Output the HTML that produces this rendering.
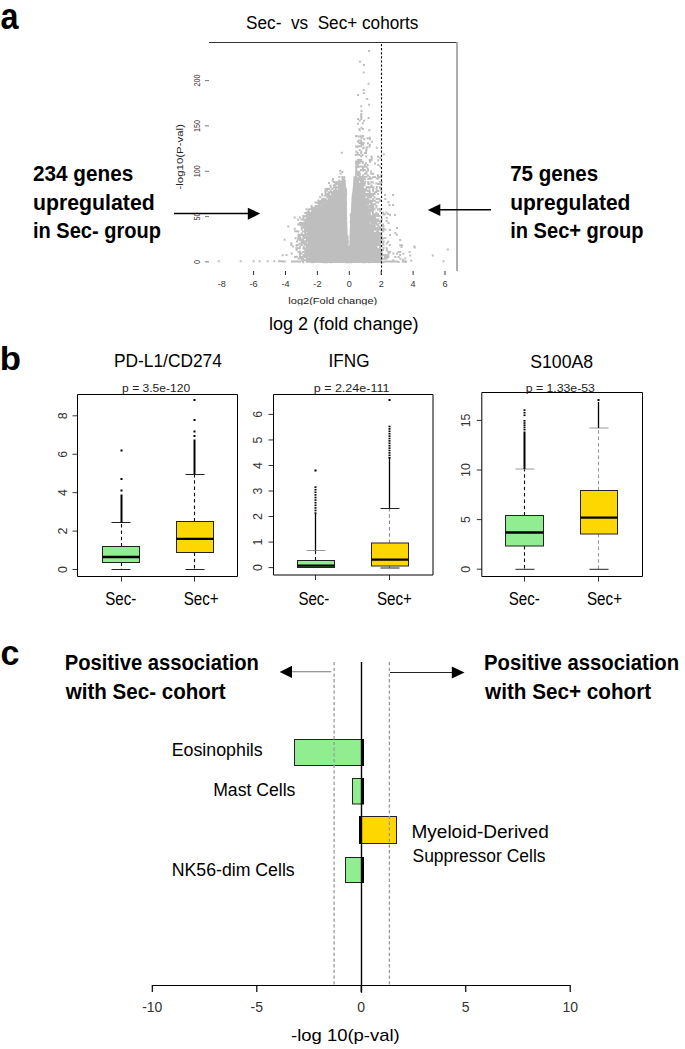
<!DOCTYPE html>
<html><head><meta charset="utf-8"><style>
html,body{margin:0;padding:0;background:#fff;overflow:hidden;}
svg{display:block;font-family:"Liberation Sans",sans-serif;}
</style></head><body>
<svg width="685" height="1049" viewBox="0 0 685 1049">
<rect width="685" height="1049" fill="#fff"/>
<text x="0.50" y="28.70" font-size="36" font-weight="bold" fill="#000" textLength="18.00" lengthAdjust="spacingAndGlyphs">a</text>
<text x="-0.30" y="370.20" font-size="34" font-weight="bold" fill="#000" textLength="21.25" lengthAdjust="spacingAndGlyphs">b</text>
<text x="0.60" y="665.00" font-size="35" font-weight="bold" fill="#000" textLength="19.00" lengthAdjust="spacingAndGlyphs">c</text>
<text x="246.10" y="28.60" font-size="18" font-weight="normal" fill="#000" textLength="172.25" lengthAdjust="spacingAndGlyphs">Sec-&#160;&#160;vs&#160;&#160;Sec+ cohorts</text>
<text x="33.00" y="181.20" font-size="21.5" font-weight="bold" fill="#000" textLength="100.25" lengthAdjust="spacingAndGlyphs">234 genes</text>
<text x="33.00" y="209.50" font-size="21.5" font-weight="bold" fill="#000" textLength="121.75" lengthAdjust="spacingAndGlyphs">upregulated</text>
<text x="33.00" y="237.80" font-size="21.5" font-weight="bold" fill="#000" textLength="128.00" lengthAdjust="spacingAndGlyphs">in Sec- group</text>
<text x="510.20" y="181.20" font-size="21.5" font-weight="bold" fill="#000" textLength="88.00" lengthAdjust="spacingAndGlyphs">75 genes</text>
<text x="510.20" y="209.50" font-size="21.5" font-weight="bold" fill="#000" textLength="120.25" lengthAdjust="spacingAndGlyphs">upregulated</text>
<text x="510.20" y="237.80" font-size="21.5" font-weight="bold" fill="#000" textLength="133.25" lengthAdjust="spacingAndGlyphs">in Sec+ group</text>
<text x="268.90" y="330.30" font-size="18" font-weight="normal" fill="#000" textLength="149.75" lengthAdjust="spacingAndGlyphs">log 2 (fold change)</text>
<text x="288.30" y="304.30" font-size="9.5" font-weight="normal" fill="#222" textLength="89.00" lengthAdjust="spacingAndGlyphs">log2(Fold change)</text>
<rect x="285.00" y="305.20" width="95.00" height="5.00" fill="#fff"/>
<polygon points="312.0,262.8 309.0,250.0 307.5,240.0 307.0,230.0 308.0,222.0 311.0,216.0 316.0,211.0 321.0,207.0 326.0,203.0 331.0,199.0 336.0,192.0 341.0,185.0 344.0,180.0 345.6,180.0 346.0,190.0 346.4,200.0 346.6,210.0 347.0,220.0 347.5,230.0 347.8,240.0 348.4,248.0 349.0,252.0 349.2,262.8" fill="#bebebe"/>
<polygon points="349.0,262.8 348.8,252.0 349.4,245.0 350.2,220.0 351.0,210.0 352.0,195.0 353.0,185.0 354.3,178.0 356.0,176.0 358.0,178.0 360.0,185.0 362.0,193.0 364.0,200.0 366.0,207.0 368.0,216.0 370.0,224.0 372.0,232.0 375.0,240.0 378.0,250.0 380.0,257.0 381.0,262.8" fill="#bebebe"/>
<path d="M298.9 260.8h2v2h-2zM302.1 261.3h2v2h-2zM305.9 260.8h2v2h-2zM307.5 260.7h2v2h-2zM309.0 260.7h2v2h-2zM310.9 261.2h2v2h-2zM312.7 261.0h2v2h-2zM314.3 260.9h2v2h-2zM319.5 260.9h2v2h-2zM321.0 260.7h2v2h-2zM322.7 261.2h2v2h-2zM324.8 261.2h2v2h-2zM326.0 261.2h2v2h-2zM328.2 260.9h2v2h-2zM329.7 261.2h2v2h-2zM331.1 260.9h2v2h-2zM333.2 260.8h2v2h-2zM334.5 260.7h2v2h-2zM336.2 261.0h2v2h-2zM337.9 261.1h2v2h-2zM339.9 260.8h2v2h-2zM341.3 260.9h2v2h-2zM344.8 261.2h2v2h-2zM346.5 261.2h2v2h-2zM348.1 261.3h2v2h-2zM349.9 261.2h2v2h-2zM351.6 260.7h2v2h-2zM353.4 260.8h2v2h-2zM355.0 261.0h2v2h-2zM356.8 261.0h2v2h-2zM358.3 260.8h2v2h-2zM360.4 260.8h2v2h-2zM362.0 261.3h2v2h-2zM363.9 261.2h2v2h-2zM365.3 260.8h2v2h-2zM367.3 260.8h2v2h-2zM368.6 261.2h2v2h-2zM370.3 260.8h2v2h-2zM371.8 260.8h2v2h-2zM374.0 261.1h2v2h-2zM375.8 260.8h2v2h-2zM377.1 261.0h2v2h-2zM378.7 260.9h2v2h-2zM382.2 261.2h2v2h-2zM390.5 260.7h2v2h-2zM397.7 261.0h2v2h-2zM404.4 261.1h2v2h-2zM300.7 259.4h2v2h-2zM302.5 259.6h2v2h-2zM304.2 259.2h2v2h-2zM305.8 259.3h2v2h-2zM307.3 259.5h2v2h-2zM309.3 259.3h2v2h-2zM311.0 259.3h2v2h-2zM312.9 259.2h2v2h-2zM314.2 259.4h2v2h-2zM315.8 259.5h2v2h-2zM317.7 259.5h2v2h-2zM319.5 259.1h2v2h-2zM321.3 259.5h2v2h-2zM322.7 259.3h2v2h-2zM324.3 259.3h2v2h-2zM326.4 259.4h2v2h-2zM327.8 259.1h2v2h-2zM329.5 259.1h2v2h-2zM331.4 259.3h2v2h-2zM333.2 259.6h2v2h-2zM334.4 259.0h2v2h-2zM336.1 259.4h2v2h-2zM338.0 259.5h2v2h-2zM339.6 259.3h2v2h-2zM341.7 259.1h2v2h-2zM342.9 259.4h2v2h-2zM345.0 259.4h2v2h-2zM346.9 259.4h2v2h-2zM348.3 259.1h2v2h-2zM350.0 259.4h2v2h-2zM351.6 259.2h2v2h-2zM353.4 259.4h2v2h-2zM355.0 259.5h2v2h-2zM356.6 259.6h2v2h-2zM358.3 259.3h2v2h-2zM360.4 259.2h2v2h-2zM362.1 259.5h2v2h-2zM363.6 259.4h2v2h-2zM365.4 259.5h2v2h-2zM367.1 259.1h2v2h-2zM369.0 259.6h2v2h-2zM370.6 259.2h2v2h-2zM372.3 259.2h2v2h-2zM373.8 259.3h2v2h-2zM375.5 259.0h2v2h-2zM376.9 259.5h2v2h-2zM378.8 259.5h2v2h-2zM380.4 259.3h2v2h-2zM392.3 259.3h2v2h-2zM297.6 257.6h2v2h-2zM299.2 257.6h2v2h-2zM300.8 257.3h2v2h-2zM302.3 257.9h2v2h-2zM305.8 257.4h2v2h-2zM307.7 257.8h2v2h-2zM309.1 257.4h2v2h-2zM311.2 257.4h2v2h-2zM312.3 257.4h2v2h-2zM314.4 257.5h2v2h-2zM316.1 257.4h2v2h-2zM317.5 257.6h2v2h-2zM319.2 257.6h2v2h-2zM321.0 257.5h2v2h-2zM322.6 257.4h2v2h-2zM324.6 257.6h2v2h-2zM326.3 257.8h2v2h-2zM328.0 257.8h2v2h-2zM329.5 257.5h2v2h-2zM331.1 257.9h2v2h-2zM332.8 257.4h2v2h-2zM334.6 257.4h2v2h-2zM336.4 257.8h2v2h-2zM338.0 257.7h2v2h-2zM339.6 257.7h2v2h-2zM341.8 257.4h2v2h-2zM343.4 257.6h2v2h-2zM344.7 257.3h2v2h-2zM346.3 257.6h2v2h-2zM348.3 257.4h2v2h-2zM349.8 257.8h2v2h-2zM353.2 257.3h2v2h-2zM355.1 257.8h2v2h-2zM356.8 257.6h2v2h-2zM358.6 257.3h2v2h-2zM360.4 257.4h2v2h-2zM362.0 257.5h2v2h-2zM363.4 257.6h2v2h-2zM365.5 257.8h2v2h-2zM367.2 257.7h2v2h-2zM368.8 257.6h2v2h-2zM372.0 257.8h2v2h-2zM374.0 257.8h2v2h-2zM375.7 257.8h2v2h-2zM377.4 257.8h2v2h-2zM379.0 257.3h2v2h-2zM380.6 257.3h2v2h-2zM382.4 257.7h2v2h-2zM384.3 257.7h2v2h-2zM385.8 257.6h2v2h-2zM399.4 257.7h2v2h-2zM404.2 257.5h2v2h-2zM294.0 256.1h2v2h-2zM295.9 255.7h2v2h-2zM299.0 256.0h2v2h-2zM301.0 255.9h2v2h-2zM302.5 255.8h2v2h-2zM304.2 255.9h2v2h-2zM305.9 255.8h2v2h-2zM307.3 255.6h2v2h-2zM309.4 255.8h2v2h-2zM311.0 255.6h2v2h-2zM314.0 256.1h2v2h-2zM316.0 256.2h2v2h-2zM317.7 256.2h2v2h-2zM319.4 256.2h2v2h-2zM321.2 255.7h2v2h-2zM322.8 255.7h2v2h-2zM324.5 255.7h2v2h-2zM326.3 255.9h2v2h-2zM327.9 255.9h2v2h-2zM329.6 256.2h2v2h-2zM331.4 255.7h2v2h-2zM333.2 256.1h2v2h-2zM334.6 255.8h2v2h-2zM336.4 256.0h2v2h-2zM338.3 255.7h2v2h-2zM340.1 256.1h2v2h-2zM341.2 255.6h2v2h-2zM343.2 256.0h2v2h-2zM344.9 255.6h2v2h-2zM346.7 255.9h2v2h-2zM348.2 255.9h2v2h-2zM349.9 256.0h2v2h-2zM351.4 255.7h2v2h-2zM353.5 256.1h2v2h-2zM355.1 255.8h2v2h-2zM356.7 256.0h2v2h-2zM360.2 256.0h2v2h-2zM361.9 255.8h2v2h-2zM363.8 255.6h2v2h-2zM365.3 255.9h2v2h-2zM366.9 256.1h2v2h-2zM368.5 256.0h2v2h-2zM370.3 256.0h2v2h-2zM372.0 255.7h2v2h-2zM373.9 255.8h2v2h-2zM375.6 255.9h2v2h-2zM377.5 256.1h2v2h-2zM379.1 255.8h2v2h-2zM380.5 256.2h2v2h-2zM383.9 255.8h2v2h-2zM385.6 255.8h2v2h-2zM387.4 256.1h2v2h-2zM394.4 256.1h2v2h-2zM397.6 255.9h2v2h-2zM281.7 254.3h2v2h-2zM285.5 254.0h2v2h-2zM298.9 254.5h2v2h-2zM302.4 254.3h2v2h-2zM304.3 254.1h2v2h-2zM305.9 254.4h2v2h-2zM307.7 254.4h2v2h-2zM309.3 254.2h2v2h-2zM311.1 254.2h2v2h-2zM312.4 254.3h2v2h-2zM315.8 254.0h2v2h-2zM317.6 254.5h2v2h-2zM319.3 254.0h2v2h-2zM321.3 254.0h2v2h-2zM322.8 254.3h2v2h-2zM324.2 254.0h2v2h-2zM326.0 254.0h2v2h-2zM328.0 254.0h2v2h-2zM329.5 254.0h2v2h-2zM331.2 254.2h2v2h-2zM333.0 254.1h2v2h-2zM334.9 254.1h2v2h-2zM336.7 254.2h2v2h-2zM337.8 254.5h2v2h-2zM339.7 254.2h2v2h-2zM341.4 254.5h2v2h-2zM343.0 253.9h2v2h-2zM344.8 254.4h2v2h-2zM346.7 254.0h2v2h-2zM348.2 254.1h2v2h-2zM350.0 254.3h2v2h-2zM353.4 254.0h2v2h-2zM354.8 254.4h2v2h-2zM357.0 253.9h2v2h-2zM358.6 254.0h2v2h-2zM360.2 254.5h2v2h-2zM362.1 254.1h2v2h-2zM363.6 254.5h2v2h-2zM365.5 254.0h2v2h-2zM367.0 254.0h2v2h-2zM368.6 254.1h2v2h-2zM370.3 254.2h2v2h-2zM372.0 254.3h2v2h-2zM373.7 254.2h2v2h-2zM375.7 254.3h2v2h-2zM377.1 254.3h2v2h-2zM378.9 254.2h2v2h-2zM380.9 254.4h2v2h-2zM382.4 254.1h2v2h-2zM384.0 254.1h2v2h-2zM385.6 254.3h2v2h-2zM387.2 254.3h2v2h-2zM399.1 254.0h2v2h-2zM290.8 252.5h2v2h-2zM298.9 252.4h2v2h-2zM300.6 252.6h2v2h-2zM304.2 252.6h2v2h-2zM305.7 252.4h2v2h-2zM307.3 252.4h2v2h-2zM309.4 252.7h2v2h-2zM310.7 252.7h2v2h-2zM312.6 252.4h2v2h-2zM314.1 252.6h2v2h-2zM317.8 252.7h2v2h-2zM319.7 252.6h2v2h-2zM320.8 252.3h2v2h-2zM322.9 252.4h2v2h-2zM324.4 252.5h2v2h-2zM326.5 252.3h2v2h-2zM327.9 252.5h2v2h-2zM329.5 252.7h2v2h-2zM333.1 252.3h2v2h-2zM334.6 252.7h2v2h-2zM336.4 252.7h2v2h-2zM338.1 252.2h2v2h-2zM339.6 252.8h2v2h-2zM341.6 252.4h2v2h-2zM343.3 252.4h2v2h-2zM345.1 252.2h2v2h-2zM346.6 252.3h2v2h-2zM348.3 252.3h2v2h-2zM349.9 252.5h2v2h-2zM351.8 252.2h2v2h-2zM353.2 252.8h2v2h-2zM355.1 252.4h2v2h-2zM356.9 252.7h2v2h-2zM358.5 252.8h2v2h-2zM360.4 252.4h2v2h-2zM361.9 252.7h2v2h-2zM363.6 252.5h2v2h-2zM365.2 252.2h2v2h-2zM367.2 252.6h2v2h-2zM368.9 252.4h2v2h-2zM370.1 252.3h2v2h-2zM372.1 252.4h2v2h-2zM373.9 252.5h2v2h-2zM375.4 252.4h2v2h-2zM376.9 252.7h2v2h-2zM379.0 252.7h2v2h-2zM380.8 252.3h2v2h-2zM387.6 252.3h2v2h-2zM392.3 252.4h2v2h-2zM396.1 252.7h2v2h-2zM402.4 252.7h2v2h-2zM297.5 251.1h2v2h-2zM299.1 250.6h2v2h-2zM302.2 250.9h2v2h-2zM304.3 251.0h2v2h-2zM305.6 250.9h2v2h-2zM307.5 250.5h2v2h-2zM309.1 250.9h2v2h-2zM310.7 250.6h2v2h-2zM312.8 250.7h2v2h-2zM314.5 250.9h2v2h-2zM315.9 251.1h2v2h-2zM317.6 250.9h2v2h-2zM319.7 250.8h2v2h-2zM321.1 250.5h2v2h-2zM322.7 250.7h2v2h-2zM324.3 250.7h2v2h-2zM326.0 250.7h2v2h-2zM327.7 251.0h2v2h-2zM331.3 251.0h2v2h-2zM333.3 250.8h2v2h-2zM334.7 250.9h2v2h-2zM336.5 251.0h2v2h-2zM338.1 251.0h2v2h-2zM339.8 251.1h2v2h-2zM341.7 250.6h2v2h-2zM343.0 250.8h2v2h-2zM345.1 251.0h2v2h-2zM346.6 250.6h2v2h-2zM348.3 250.5h2v2h-2zM350.1 250.8h2v2h-2zM351.5 250.6h2v2h-2zM353.4 250.8h2v2h-2zM355.0 251.0h2v2h-2zM357.0 250.8h2v2h-2zM358.7 250.6h2v2h-2zM360.1 250.5h2v2h-2zM362.0 250.8h2v2h-2zM363.7 250.6h2v2h-2zM365.1 250.7h2v2h-2zM367.1 251.0h2v2h-2zM368.4 250.7h2v2h-2zM370.2 251.1h2v2h-2zM372.1 251.0h2v2h-2zM375.5 250.9h2v2h-2zM377.0 251.0h2v2h-2zM378.8 250.7h2v2h-2zM380.3 250.5h2v2h-2zM387.3 250.8h2v2h-2zM389.1 251.1h2v2h-2zM397.5 250.9h2v2h-2zM399.2 250.9h2v2h-2zM295.6 249.0h2v2h-2zM304.0 248.8h2v2h-2zM305.7 249.0h2v2h-2zM307.3 249.0h2v2h-2zM309.5 249.2h2v2h-2zM310.8 248.9h2v2h-2zM312.5 249.3h2v2h-2zM314.5 248.8h2v2h-2zM315.9 248.8h2v2h-2zM317.6 249.3h2v2h-2zM319.1 249.0h2v2h-2zM320.8 248.9h2v2h-2zM322.5 249.0h2v2h-2zM324.5 248.9h2v2h-2zM326.1 249.2h2v2h-2zM327.7 248.9h2v2h-2zM329.7 249.0h2v2h-2zM331.5 248.9h2v2h-2zM332.9 248.9h2v2h-2zM334.4 249.2h2v2h-2zM336.6 249.4h2v2h-2zM338.2 249.4h2v2h-2zM339.9 249.2h2v2h-2zM341.7 248.9h2v2h-2zM343.0 249.1h2v2h-2zM344.6 249.0h2v2h-2zM346.6 249.0h2v2h-2zM348.2 249.1h2v2h-2zM350.1 248.9h2v2h-2zM351.6 249.1h2v2h-2zM353.4 249.2h2v2h-2zM355.2 248.8h2v2h-2zM356.7 248.8h2v2h-2zM358.2 249.1h2v2h-2zM360.2 249.0h2v2h-2zM361.6 249.0h2v2h-2zM363.6 249.0h2v2h-2zM365.1 249.1h2v2h-2zM367.3 249.0h2v2h-2zM369.0 249.3h2v2h-2zM370.5 249.0h2v2h-2zM372.0 249.3h2v2h-2zM373.7 249.3h2v2h-2zM375.3 249.1h2v2h-2zM377.1 249.4h2v2h-2zM378.7 248.9h2v2h-2zM382.0 249.1h2v2h-2zM385.7 249.2h2v2h-2zM295.4 247.3h2v2h-2zM297.3 247.2h2v2h-2zM298.7 247.2h2v2h-2zM302.4 247.6h2v2h-2zM303.9 247.6h2v2h-2zM305.5 247.3h2v2h-2zM307.7 247.3h2v2h-2zM309.1 247.5h2v2h-2zM310.8 247.6h2v2h-2zM312.8 247.4h2v2h-2zM314.4 247.5h2v2h-2zM316.2 247.2h2v2h-2zM317.8 247.2h2v2h-2zM319.1 247.5h2v2h-2zM321.4 247.2h2v2h-2zM322.8 247.5h2v2h-2zM324.8 247.7h2v2h-2zM326.3 247.2h2v2h-2zM327.8 247.5h2v2h-2zM331.2 247.1h2v2h-2zM333.0 247.3h2v2h-2zM334.9 247.6h2v2h-2zM336.3 247.5h2v2h-2zM338.4 247.3h2v2h-2zM339.8 247.6h2v2h-2zM341.3 247.2h2v2h-2zM343.1 247.4h2v2h-2zM344.8 247.1h2v2h-2zM346.4 247.5h2v2h-2zM348.1 247.4h2v2h-2zM349.9 247.1h2v2h-2zM351.9 247.3h2v2h-2zM353.2 247.4h2v2h-2zM357.0 247.4h2v2h-2zM358.7 247.3h2v2h-2zM360.2 247.5h2v2h-2zM361.8 247.7h2v2h-2zM363.9 247.4h2v2h-2zM365.4 247.2h2v2h-2zM366.8 247.2h2v2h-2zM368.6 247.6h2v2h-2zM370.4 247.1h2v2h-2zM372.4 247.1h2v2h-2zM374.0 247.6h2v2h-2zM375.4 247.6h2v2h-2zM377.4 247.7h2v2h-2zM379.2 247.3h2v2h-2zM382.5 247.1h2v2h-2zM385.6 247.3h2v2h-2zM292.2 245.6h2v2h-2zM299.2 245.6h2v2h-2zM302.7 245.7h2v2h-2zM305.7 245.8h2v2h-2zM307.4 245.8h2v2h-2zM309.1 245.5h2v2h-2zM311.2 245.5h2v2h-2zM312.5 245.8h2v2h-2zM314.4 245.9h2v2h-2zM316.1 245.7h2v2h-2zM317.5 245.9h2v2h-2zM319.4 245.8h2v2h-2zM321.0 245.5h2v2h-2zM322.8 245.7h2v2h-2zM324.6 245.7h2v2h-2zM326.3 246.0h2v2h-2zM327.9 246.0h2v2h-2zM329.5 245.8h2v2h-2zM333.2 245.5h2v2h-2zM336.2 245.9h2v2h-2zM338.4 245.9h2v2h-2zM339.8 246.0h2v2h-2zM341.7 245.8h2v2h-2zM343.4 245.7h2v2h-2zM345.1 245.5h2v2h-2zM346.7 245.4h2v2h-2zM348.5 245.7h2v2h-2zM350.2 245.9h2v2h-2zM351.7 245.9h2v2h-2zM353.2 245.6h2v2h-2zM354.8 245.6h2v2h-2zM357.0 245.5h2v2h-2zM358.4 245.9h2v2h-2zM360.4 245.4h2v2h-2zM363.7 245.9h2v2h-2zM365.1 245.8h2v2h-2zM366.7 245.6h2v2h-2zM368.8 245.6h2v2h-2zM370.5 245.5h2v2h-2zM372.2 245.7h2v2h-2zM373.6 246.0h2v2h-2zM375.4 245.5h2v2h-2zM379.0 245.6h2v2h-2zM380.5 245.5h2v2h-2zM290.5 243.9h2v2h-2zM295.7 244.1h2v2h-2zM297.2 243.8h2v2h-2zM300.7 243.9h2v2h-2zM304.2 244.0h2v2h-2zM306.0 243.8h2v2h-2zM307.4 244.1h2v2h-2zM309.1 244.2h2v2h-2zM310.6 244.1h2v2h-2zM312.5 244.0h2v2h-2zM314.4 244.1h2v2h-2zM321.3 244.1h2v2h-2zM323.1 243.7h2v2h-2zM324.4 244.1h2v2h-2zM326.5 243.8h2v2h-2zM327.7 243.9h2v2h-2zM329.4 243.8h2v2h-2zM331.4 244.1h2v2h-2zM333.2 244.1h2v2h-2zM334.5 244.0h2v2h-2zM336.6 244.3h2v2h-2zM337.8 243.9h2v2h-2zM339.8 243.8h2v2h-2zM341.4 244.0h2v2h-2zM343.2 243.8h2v2h-2zM344.9 243.9h2v2h-2zM346.4 243.9h2v2h-2zM349.8 244.0h2v2h-2zM351.7 244.2h2v2h-2zM353.6 243.8h2v2h-2zM356.7 244.1h2v2h-2zM358.8 243.9h2v2h-2zM360.0 244.2h2v2h-2zM362.0 243.8h2v2h-2zM363.3 243.8h2v2h-2zM365.6 244.1h2v2h-2zM366.7 243.9h2v2h-2zM368.6 243.8h2v2h-2zM370.3 244.0h2v2h-2zM372.3 244.3h2v2h-2zM373.8 244.2h2v2h-2zM375.4 244.1h2v2h-2zM377.1 244.0h2v2h-2zM378.8 244.0h2v2h-2zM382.5 243.7h2v2h-2zM388.9 243.9h2v2h-2zM399.2 244.3h2v2h-2zM401.1 244.3h2v2h-2zM290.3 242.2h2v2h-2zM298.9 242.4h2v2h-2zM301.0 242.5h2v2h-2zM302.3 242.5h2v2h-2zM304.2 242.0h2v2h-2zM305.5 242.4h2v2h-2zM307.8 242.4h2v2h-2zM309.5 242.5h2v2h-2zM310.6 242.4h2v2h-2zM312.7 242.6h2v2h-2zM314.0 242.5h2v2h-2zM316.2 242.2h2v2h-2zM317.7 242.1h2v2h-2zM319.5 242.0h2v2h-2zM321.3 242.4h2v2h-2zM322.6 242.1h2v2h-2zM324.8 242.3h2v2h-2zM326.0 242.2h2v2h-2zM328.1 242.1h2v2h-2zM329.6 242.0h2v2h-2zM331.2 242.4h2v2h-2zM333.0 242.4h2v2h-2zM334.9 242.1h2v2h-2zM336.2 242.4h2v2h-2zM338.0 242.1h2v2h-2zM339.9 242.3h2v2h-2zM341.5 242.5h2v2h-2zM343.3 242.3h2v2h-2zM346.7 242.1h2v2h-2zM350.1 242.3h2v2h-2zM351.4 242.5h2v2h-2zM353.5 242.3h2v2h-2zM355.1 242.6h2v2h-2zM356.8 242.3h2v2h-2zM358.7 242.1h2v2h-2zM360.4 242.0h2v2h-2zM361.9 242.3h2v2h-2zM363.4 242.6h2v2h-2zM365.5 242.1h2v2h-2zM366.8 242.1h2v2h-2zM368.8 242.1h2v2h-2zM370.4 242.5h2v2h-2zM372.2 242.2h2v2h-2zM373.9 242.2h2v2h-2zM375.6 242.2h2v2h-2zM376.9 242.3h2v2h-2zM378.8 242.2h2v2h-2zM380.6 242.2h2v2h-2zM382.2 242.3h2v2h-2zM385.9 242.5h2v2h-2zM295.9 240.4h2v2h-2zM300.9 240.4h2v2h-2zM302.2 240.9h2v2h-2zM304.3 240.3h2v2h-2zM305.5 240.3h2v2h-2zM307.8 240.7h2v2h-2zM309.4 240.6h2v2h-2zM310.9 240.4h2v2h-2zM312.5 240.6h2v2h-2zM314.4 240.6h2v2h-2zM315.7 240.6h2v2h-2zM318.0 240.6h2v2h-2zM319.3 240.5h2v2h-2zM321.4 240.9h2v2h-2zM323.1 240.8h2v2h-2zM324.2 240.6h2v2h-2zM326.3 240.7h2v2h-2zM328.2 240.4h2v2h-2zM329.9 240.3h2v2h-2zM331.5 240.9h2v2h-2zM332.7 240.8h2v2h-2zM334.7 240.6h2v2h-2zM336.6 240.3h2v2h-2zM338.3 240.9h2v2h-2zM339.7 240.5h2v2h-2zM341.2 240.8h2v2h-2zM343.3 240.6h2v2h-2zM345.0 240.6h2v2h-2zM346.8 240.4h2v2h-2zM349.9 240.6h2v2h-2zM351.6 240.4h2v2h-2zM353.3 240.6h2v2h-2zM355.3 240.4h2v2h-2zM356.7 240.5h2v2h-2zM358.6 240.8h2v2h-2zM359.9 240.8h2v2h-2zM361.7 240.5h2v2h-2zM365.2 240.8h2v2h-2zM368.5 240.8h2v2h-2zM370.3 240.8h2v2h-2zM372.0 240.7h2v2h-2zM373.8 240.8h2v2h-2zM375.5 240.5h2v2h-2zM377.4 240.4h2v2h-2zM379.1 240.9h2v2h-2zM382.6 240.4h2v2h-2zM387.2 240.7h2v2h-2zM283.6 238.7h2v2h-2zM297.1 238.6h2v2h-2zM299.2 239.2h2v2h-2zM300.5 238.8h2v2h-2zM302.3 239.1h2v2h-2zM305.9 239.1h2v2h-2zM307.3 239.2h2v2h-2zM311.1 238.8h2v2h-2zM312.4 238.7h2v2h-2zM314.1 238.6h2v2h-2zM316.2 238.9h2v2h-2zM317.7 238.7h2v2h-2zM319.3 238.6h2v2h-2zM321.2 238.8h2v2h-2zM322.9 238.8h2v2h-2zM324.7 238.9h2v2h-2zM326.2 238.9h2v2h-2zM328.1 238.7h2v2h-2zM329.8 239.1h2v2h-2zM331.3 239.2h2v2h-2zM332.8 239.0h2v2h-2zM334.8 238.7h2v2h-2zM336.3 238.7h2v2h-2zM338.0 238.9h2v2h-2zM340.1 238.9h2v2h-2zM341.2 238.9h2v2h-2zM343.2 239.0h2v2h-2zM344.7 238.9h2v2h-2zM346.7 239.2h2v2h-2zM350.0 238.7h2v2h-2zM351.5 239.1h2v2h-2zM353.3 239.1h2v2h-2zM355.1 238.9h2v2h-2zM356.8 238.9h2v2h-2zM358.7 238.9h2v2h-2zM360.0 238.7h2v2h-2zM362.1 239.2h2v2h-2zM363.7 239.1h2v2h-2zM365.5 239.1h2v2h-2zM367.2 238.8h2v2h-2zM369.0 238.6h2v2h-2zM370.3 239.1h2v2h-2zM372.3 239.2h2v2h-2zM373.5 239.0h2v2h-2zM375.8 239.1h2v2h-2zM377.0 239.0h2v2h-2zM379.2 239.0h2v2h-2zM380.7 238.6h2v2h-2zM399.1 239.1h2v2h-2zM297.6 237.4h2v2h-2zM299.3 237.3h2v2h-2zM302.3 237.1h2v2h-2zM304.1 236.9h2v2h-2zM305.8 237.2h2v2h-2zM307.3 237.0h2v2h-2zM309.0 237.1h2v2h-2zM310.6 237.1h2v2h-2zM312.9 237.3h2v2h-2zM314.2 237.0h2v2h-2zM316.3 237.0h2v2h-2zM317.8 237.4h2v2h-2zM319.5 237.5h2v2h-2zM321.0 237.2h2v2h-2zM324.3 237.4h2v2h-2zM326.0 237.2h2v2h-2zM328.0 237.3h2v2h-2zM329.8 237.3h2v2h-2zM331.3 237.2h2v2h-2zM333.0 237.5h2v2h-2zM334.4 236.9h2v2h-2zM336.5 237.2h2v2h-2zM338.1 237.2h2v2h-2zM339.7 237.3h2v2h-2zM341.6 236.9h2v2h-2zM343.0 236.9h2v2h-2zM344.6 236.9h2v2h-2zM346.6 237.0h2v2h-2zM350.2 237.2h2v2h-2zM351.6 237.5h2v2h-2zM353.3 237.0h2v2h-2zM355.1 237.1h2v2h-2zM357.0 237.1h2v2h-2zM358.6 237.2h2v2h-2zM360.2 237.2h2v2h-2zM362.0 237.1h2v2h-2zM363.8 237.2h2v2h-2zM365.5 237.2h2v2h-2zM367.2 237.5h2v2h-2zM368.6 237.3h2v2h-2zM370.3 237.3h2v2h-2zM372.2 237.3h2v2h-2zM373.9 237.0h2v2h-2zM375.5 237.5h2v2h-2zM377.3 236.9h2v2h-2zM379.1 237.1h2v2h-2zM382.2 237.5h2v2h-2zM384.2 236.9h2v2h-2zM297.3 235.5h2v2h-2zM298.8 235.6h2v2h-2zM302.3 235.7h2v2h-2zM303.9 235.6h2v2h-2zM305.8 235.8h2v2h-2zM307.8 235.4h2v2h-2zM308.9 235.4h2v2h-2zM311.0 235.7h2v2h-2zM312.5 235.4h2v2h-2zM314.0 235.4h2v2h-2zM315.8 235.4h2v2h-2zM318.0 235.3h2v2h-2zM319.2 235.3h2v2h-2zM321.2 235.4h2v2h-2zM322.9 235.2h2v2h-2zM324.7 235.3h2v2h-2zM326.3 235.4h2v2h-2zM327.7 235.5h2v2h-2zM329.6 235.7h2v2h-2zM331.4 235.8h2v2h-2zM332.8 235.6h2v2h-2zM335.0 235.4h2v2h-2zM336.4 235.7h2v2h-2zM338.2 235.3h2v2h-2zM339.9 235.3h2v2h-2zM341.7 235.3h2v2h-2zM343.0 235.6h2v2h-2zM345.0 235.2h2v2h-2zM346.6 235.5h2v2h-2zM349.7 235.4h2v2h-2zM353.6 235.2h2v2h-2zM354.8 235.6h2v2h-2zM356.7 235.6h2v2h-2zM358.4 235.5h2v2h-2zM360.2 235.4h2v2h-2zM361.7 235.4h2v2h-2zM363.3 235.4h2v2h-2zM365.2 235.3h2v2h-2zM367.0 235.5h2v2h-2zM368.9 235.7h2v2h-2zM370.5 235.6h2v2h-2zM372.0 235.4h2v2h-2zM373.8 235.5h2v2h-2zM375.7 235.7h2v2h-2zM376.9 235.4h2v2h-2zM379.1 235.6h2v2h-2zM380.4 235.7h2v2h-2zM297.6 233.5h2v2h-2zM298.9 233.9h2v2h-2zM300.7 234.1h2v2h-2zM302.6 233.9h2v2h-2zM303.9 233.8h2v2h-2zM305.9 233.6h2v2h-2zM307.5 233.7h2v2h-2zM309.3 233.5h2v2h-2zM311.0 233.6h2v2h-2zM312.8 233.7h2v2h-2zM314.3 233.6h2v2h-2zM315.9 234.0h2v2h-2zM317.9 233.5h2v2h-2zM319.6 233.6h2v2h-2zM320.8 233.6h2v2h-2zM323.1 233.7h2v2h-2zM324.7 233.6h2v2h-2zM326.3 234.1h2v2h-2zM327.9 233.7h2v2h-2zM329.5 233.9h2v2h-2zM331.3 234.1h2v2h-2zM332.9 234.1h2v2h-2zM334.4 233.6h2v2h-2zM336.3 234.0h2v2h-2zM338.4 233.9h2v2h-2zM339.7 233.9h2v2h-2zM341.2 233.8h2v2h-2zM343.2 233.5h2v2h-2zM345.2 233.7h2v2h-2zM349.8 233.9h2v2h-2zM351.5 233.8h2v2h-2zM353.6 233.8h2v2h-2zM354.9 233.9h2v2h-2zM357.0 233.5h2v2h-2zM358.5 234.0h2v2h-2zM360.3 234.0h2v2h-2zM361.6 234.0h2v2h-2zM363.4 233.5h2v2h-2zM365.5 233.7h2v2h-2zM366.7 234.0h2v2h-2zM368.9 233.5h2v2h-2zM370.3 233.6h2v2h-2zM371.9 233.9h2v2h-2zM373.6 233.8h2v2h-2zM375.3 233.8h2v2h-2zM377.1 233.8h2v2h-2zM379.0 233.6h2v2h-2zM380.3 234.0h2v2h-2zM389.0 233.9h2v2h-2zM395.8 233.7h2v2h-2zM300.8 232.4h2v2h-2zM304.3 232.4h2v2h-2zM305.9 232.4h2v2h-2zM307.4 232.1h2v2h-2zM309.4 231.8h2v2h-2zM310.8 232.0h2v2h-2zM312.4 232.1h2v2h-2zM314.6 232.0h2v2h-2zM316.1 231.9h2v2h-2zM317.5 232.1h2v2h-2zM319.1 231.8h2v2h-2zM321.0 232.0h2v2h-2zM324.2 232.2h2v2h-2zM326.2 232.2h2v2h-2zM328.2 232.1h2v2h-2zM329.5 232.0h2v2h-2zM331.3 232.2h2v2h-2zM333.2 232.4h2v2h-2zM334.8 231.9h2v2h-2zM336.3 231.9h2v2h-2zM338.1 232.2h2v2h-2zM339.5 231.9h2v2h-2zM341.5 232.3h2v2h-2zM343.2 232.3h2v2h-2zM344.7 232.2h2v2h-2zM349.8 231.8h2v2h-2zM351.4 232.1h2v2h-2zM353.5 232.3h2v2h-2zM354.9 232.2h2v2h-2zM357.0 232.1h2v2h-2zM358.7 232.2h2v2h-2zM362.1 232.2h2v2h-2zM363.3 232.1h2v2h-2zM365.4 232.1h2v2h-2zM366.7 231.9h2v2h-2zM368.8 232.4h2v2h-2zM370.3 232.1h2v2h-2zM372.3 232.0h2v2h-2zM373.8 232.0h2v2h-2zM375.4 232.4h2v2h-2zM377.1 231.8h2v2h-2zM378.7 231.9h2v2h-2zM394.4 232.1h2v2h-2zM294.2 230.3h2v2h-2zM295.8 230.2h2v2h-2zM297.4 230.4h2v2h-2zM302.1 230.5h2v2h-2zM304.0 230.7h2v2h-2zM305.9 230.1h2v2h-2zM307.8 230.5h2v2h-2zM309.3 230.6h2v2h-2zM310.6 230.4h2v2h-2zM312.6 230.7h2v2h-2zM314.1 230.4h2v2h-2zM315.8 230.5h2v2h-2zM317.6 230.4h2v2h-2zM319.5 230.4h2v2h-2zM320.9 230.2h2v2h-2zM322.8 230.5h2v2h-2zM324.4 230.2h2v2h-2zM327.7 230.5h2v2h-2zM329.7 230.6h2v2h-2zM331.5 230.7h2v2h-2zM333.1 230.3h2v2h-2zM334.6 230.5h2v2h-2zM336.3 230.6h2v2h-2zM338.2 230.6h2v2h-2zM339.9 230.3h2v2h-2zM341.3 230.6h2v2h-2zM343.1 230.3h2v2h-2zM344.7 230.5h2v2h-2zM349.8 230.3h2v2h-2zM351.5 230.6h2v2h-2zM353.4 230.2h2v2h-2zM355.1 230.3h2v2h-2zM356.5 230.5h2v2h-2zM358.4 230.2h2v2h-2zM359.9 230.6h2v2h-2zM361.6 230.4h2v2h-2zM363.5 230.1h2v2h-2zM365.2 230.7h2v2h-2zM367.3 230.6h2v2h-2zM368.5 230.6h2v2h-2zM370.4 230.2h2v2h-2zM372.0 230.2h2v2h-2zM375.7 230.7h2v2h-2zM377.3 230.4h2v2h-2zM382.3 230.3h2v2h-2zM300.7 228.5h2v2h-2zM304.0 228.9h2v2h-2zM305.9 228.6h2v2h-2zM307.3 228.7h2v2h-2zM309.3 228.5h2v2h-2zM310.7 228.7h2v2h-2zM312.3 229.0h2v2h-2zM314.2 228.5h2v2h-2zM316.3 228.5h2v2h-2zM317.9 229.0h2v2h-2zM319.2 228.5h2v2h-2zM321.3 228.9h2v2h-2zM322.6 228.6h2v2h-2zM324.6 228.8h2v2h-2zM326.2 228.7h2v2h-2zM327.8 228.7h2v2h-2zM329.7 228.6h2v2h-2zM331.1 228.4h2v2h-2zM332.9 228.4h2v2h-2zM334.7 229.0h2v2h-2zM336.1 228.6h2v2h-2zM338.0 228.5h2v2h-2zM340.0 228.6h2v2h-2zM341.3 228.4h2v2h-2zM343.0 228.8h2v2h-2zM344.7 228.5h2v2h-2zM350.2 228.8h2v2h-2zM351.7 228.6h2v2h-2zM353.6 228.6h2v2h-2zM355.4 228.8h2v2h-2zM357.1 228.5h2v2h-2zM360.4 228.5h2v2h-2zM361.9 228.9h2v2h-2zM363.4 228.9h2v2h-2zM365.3 228.4h2v2h-2zM366.9 228.7h2v2h-2zM368.8 228.9h2v2h-2zM370.2 228.8h2v2h-2zM371.9 228.4h2v2h-2zM373.7 228.7h2v2h-2zM375.5 228.6h2v2h-2zM377.3 228.6h2v2h-2zM378.8 228.6h2v2h-2zM380.5 228.6h2v2h-2zM382.0 228.7h2v2h-2zM384.2 228.6h2v2h-2zM388.9 228.9h2v2h-2zM300.9 227.1h2v2h-2zM302.6 226.7h2v2h-2zM304.0 227.3h2v2h-2zM305.8 226.8h2v2h-2zM307.5 227.1h2v2h-2zM309.4 226.7h2v2h-2zM311.0 227.2h2v2h-2zM312.5 226.7h2v2h-2zM314.4 226.7h2v2h-2zM316.0 226.7h2v2h-2zM317.6 226.8h2v2h-2zM319.7 226.8h2v2h-2zM321.0 227.1h2v2h-2zM322.7 226.9h2v2h-2zM324.5 227.1h2v2h-2zM326.5 227.2h2v2h-2zM327.7 226.8h2v2h-2zM329.7 227.1h2v2h-2zM331.6 226.9h2v2h-2zM332.8 226.8h2v2h-2zM334.9 226.7h2v2h-2zM336.2 227.2h2v2h-2zM338.0 226.8h2v2h-2zM340.1 227.1h2v2h-2zM341.6 227.2h2v2h-2zM343.1 227.0h2v2h-2zM344.8 227.1h2v2h-2zM350.3 226.8h2v2h-2zM352.0 227.3h2v2h-2zM353.6 227.2h2v2h-2zM355.1 226.7h2v2h-2zM357.0 227.2h2v2h-2zM358.2 227.1h2v2h-2zM360.4 227.3h2v2h-2zM362.0 227.1h2v2h-2zM363.5 227.1h2v2h-2zM365.5 227.1h2v2h-2zM367.0 226.8h2v2h-2zM368.8 227.0h2v2h-2zM370.1 226.9h2v2h-2zM371.9 226.8h2v2h-2zM373.9 227.2h2v2h-2zM375.2 227.2h2v2h-2zM377.3 227.1h2v2h-2zM378.8 226.7h2v2h-2zM382.4 227.2h2v2h-2zM396.0 227.1h2v2h-2zM287.3 225.4h2v2h-2zM300.4 225.2h2v2h-2zM302.7 225.2h2v2h-2zM304.2 225.1h2v2h-2zM305.7 225.1h2v2h-2zM307.5 225.5h2v2h-2zM309.5 225.1h2v2h-2zM310.7 225.0h2v2h-2zM312.8 225.2h2v2h-2zM314.3 225.2h2v2h-2zM315.7 225.2h2v2h-2zM317.9 225.5h2v2h-2zM319.5 225.5h2v2h-2zM320.8 225.1h2v2h-2zM323.0 225.6h2v2h-2zM324.3 225.3h2v2h-2zM326.3 225.1h2v2h-2zM327.9 225.2h2v2h-2zM331.0 225.4h2v2h-2zM332.8 225.2h2v2h-2zM334.6 225.4h2v2h-2zM336.7 225.5h2v2h-2zM338.0 225.5h2v2h-2zM339.8 225.0h2v2h-2zM341.8 225.1h2v2h-2zM343.2 225.0h2v2h-2zM344.6 225.5h2v2h-2zM350.0 225.3h2v2h-2zM351.8 225.0h2v2h-2zM353.7 225.4h2v2h-2zM355.2 225.4h2v2h-2zM357.0 225.3h2v2h-2zM358.5 225.2h2v2h-2zM360.4 225.2h2v2h-2zM361.8 225.1h2v2h-2zM363.9 225.5h2v2h-2zM366.7 225.1h2v2h-2zM368.8 225.4h2v2h-2zM370.3 225.1h2v2h-2zM371.9 225.0h2v2h-2zM373.8 225.2h2v2h-2zM377.4 225.3h2v2h-2zM378.6 225.4h2v2h-2zM382.4 225.1h2v2h-2zM297.2 223.4h2v2h-2zM299.1 223.7h2v2h-2zM300.7 223.3h2v2h-2zM302.6 223.5h2v2h-2zM303.9 223.5h2v2h-2zM305.5 223.6h2v2h-2zM307.6 223.9h2v2h-2zM309.0 223.4h2v2h-2zM310.8 223.6h2v2h-2zM312.7 223.5h2v2h-2zM314.1 223.9h2v2h-2zM316.2 223.5h2v2h-2zM319.5 223.9h2v2h-2zM320.8 223.4h2v2h-2zM323.0 223.7h2v2h-2zM324.3 223.7h2v2h-2zM326.0 223.7h2v2h-2zM328.1 223.8h2v2h-2zM329.5 223.4h2v2h-2zM331.0 223.8h2v2h-2zM333.2 223.6h2v2h-2zM334.9 223.8h2v2h-2zM336.2 223.5h2v2h-2zM338.3 223.6h2v2h-2zM341.5 223.8h2v2h-2zM343.4 223.8h2v2h-2zM344.8 223.7h2v2h-2zM350.1 223.9h2v2h-2zM351.5 223.6h2v2h-2zM353.4 223.3h2v2h-2zM355.3 223.7h2v2h-2zM356.8 223.6h2v2h-2zM358.7 223.6h2v2h-2zM360.0 223.6h2v2h-2zM361.7 223.3h2v2h-2zM363.4 223.8h2v2h-2zM365.5 223.6h2v2h-2zM366.9 223.8h2v2h-2zM368.8 223.7h2v2h-2zM370.2 223.6h2v2h-2zM372.4 223.7h2v2h-2zM373.5 223.6h2v2h-2zM375.8 223.4h2v2h-2zM376.9 223.3h2v2h-2zM382.0 223.6h2v2h-2zM298.7 222.0h2v2h-2zM300.5 222.1h2v2h-2zM302.6 221.8h2v2h-2zM304.4 222.1h2v2h-2zM306.1 222.0h2v2h-2zM307.6 221.9h2v2h-2zM309.1 221.9h2v2h-2zM311.0 222.1h2v2h-2zM312.4 221.6h2v2h-2zM314.3 222.1h2v2h-2zM316.0 222.0h2v2h-2zM317.8 221.9h2v2h-2zM319.2 221.7h2v2h-2zM321.3 222.2h2v2h-2zM322.8 221.9h2v2h-2zM324.3 222.1h2v2h-2zM326.0 221.8h2v2h-2zM327.7 221.6h2v2h-2zM329.4 222.0h2v2h-2zM331.4 221.9h2v2h-2zM332.9 221.9h2v2h-2zM334.5 222.0h2v2h-2zM336.7 222.0h2v2h-2zM338.3 221.8h2v2h-2zM339.8 222.0h2v2h-2zM341.3 222.2h2v2h-2zM345.2 222.0h2v2h-2zM349.8 221.6h2v2h-2zM351.8 222.0h2v2h-2zM353.4 222.0h2v2h-2zM355.2 221.9h2v2h-2zM356.8 221.7h2v2h-2zM358.6 221.9h2v2h-2zM360.2 221.7h2v2h-2zM361.8 221.7h2v2h-2zM363.4 222.0h2v2h-2zM365.3 222.2h2v2h-2zM367.2 221.6h2v2h-2zM370.4 222.0h2v2h-2zM371.9 221.8h2v2h-2zM374.0 221.7h2v2h-2zM375.5 221.9h2v2h-2zM378.8 222.2h2v2h-2zM387.5 221.9h2v2h-2zM304.4 220.2h2v2h-2zM305.7 220.3h2v2h-2zM307.6 220.1h2v2h-2zM309.1 220.4h2v2h-2zM310.8 220.2h2v2h-2zM312.6 220.2h2v2h-2zM314.4 220.0h2v2h-2zM317.4 220.4h2v2h-2zM319.1 220.0h2v2h-2zM321.3 219.9h2v2h-2zM322.5 219.9h2v2h-2zM324.5 220.5h2v2h-2zM326.4 220.3h2v2h-2zM328.0 220.0h2v2h-2zM329.6 220.0h2v2h-2zM331.3 220.0h2v2h-2zM333.2 220.1h2v2h-2zM334.5 220.0h2v2h-2zM336.4 220.3h2v2h-2zM338.2 220.3h2v2h-2zM340.1 220.1h2v2h-2zM343.2 220.0h2v2h-2zM345.0 220.0h2v2h-2zM349.8 220.2h2v2h-2zM351.6 220.4h2v2h-2zM353.2 220.3h2v2h-2zM356.8 220.2h2v2h-2zM358.7 220.4h2v2h-2zM360.4 220.0h2v2h-2zM361.9 220.0h2v2h-2zM363.5 220.5h2v2h-2zM365.5 220.5h2v2h-2zM367.2 220.2h2v2h-2zM368.5 220.3h2v2h-2zM370.5 220.1h2v2h-2zM372.0 220.1h2v2h-2zM373.5 220.2h2v2h-2zM375.3 220.3h2v2h-2zM377.1 220.0h2v2h-2zM378.9 220.3h2v2h-2zM385.7 220.1h2v2h-2zM297.0 218.7h2v2h-2zM300.4 218.6h2v2h-2zM302.1 218.7h2v2h-2zM303.9 218.7h2v2h-2zM305.6 218.5h2v2h-2zM307.6 218.5h2v2h-2zM308.9 218.3h2v2h-2zM311.0 218.5h2v2h-2zM312.6 218.6h2v2h-2zM314.5 218.5h2v2h-2zM316.3 218.7h2v2h-2zM317.8 218.5h2v2h-2zM319.2 218.6h2v2h-2zM321.2 218.5h2v2h-2zM322.8 218.3h2v2h-2zM324.6 218.7h2v2h-2zM326.1 218.5h2v2h-2zM328.0 218.7h2v2h-2zM329.8 218.6h2v2h-2zM333.0 218.6h2v2h-2zM334.9 218.5h2v2h-2zM336.4 218.4h2v2h-2zM338.0 218.5h2v2h-2zM339.6 218.7h2v2h-2zM343.1 218.2h2v2h-2zM344.6 218.4h2v2h-2zM350.1 218.7h2v2h-2zM351.5 218.5h2v2h-2zM353.3 218.5h2v2h-2zM355.0 218.6h2v2h-2zM356.7 218.2h2v2h-2zM358.6 218.6h2v2h-2zM360.5 218.6h2v2h-2zM362.1 218.3h2v2h-2zM363.6 218.6h2v2h-2zM365.4 218.2h2v2h-2zM367.0 218.3h2v2h-2zM368.8 218.7h2v2h-2zM370.3 218.5h2v2h-2zM372.0 218.5h2v2h-2zM373.7 218.3h2v2h-2zM375.5 218.6h2v2h-2zM377.4 218.6h2v2h-2zM380.8 218.4h2v2h-2zM298.9 216.6h2v2h-2zM302.5 216.8h2v2h-2zM305.9 217.0h2v2h-2zM307.8 216.7h2v2h-2zM308.9 216.7h2v2h-2zM311.0 216.5h2v2h-2zM312.3 216.8h2v2h-2zM314.5 216.9h2v2h-2zM316.1 216.6h2v2h-2zM317.6 217.1h2v2h-2zM319.3 216.7h2v2h-2zM321.0 216.6h2v2h-2zM322.9 217.1h2v2h-2zM324.4 216.9h2v2h-2zM326.3 216.9h2v2h-2zM327.6 216.6h2v2h-2zM329.4 216.7h2v2h-2zM331.0 216.8h2v2h-2zM332.8 216.6h2v2h-2zM334.4 216.6h2v2h-2zM336.3 217.0h2v2h-2zM338.1 216.7h2v2h-2zM340.0 216.7h2v2h-2zM341.3 216.8h2v2h-2zM343.0 216.5h2v2h-2zM345.2 217.1h2v2h-2zM350.1 216.9h2v2h-2zM351.5 216.9h2v2h-2zM353.5 216.5h2v2h-2zM354.9 217.0h2v2h-2zM356.7 217.0h2v2h-2zM358.4 216.7h2v2h-2zM359.9 216.5h2v2h-2zM362.1 216.8h2v2h-2zM363.6 216.9h2v2h-2zM365.3 216.9h2v2h-2zM367.1 216.7h2v2h-2zM368.5 216.8h2v2h-2zM370.4 216.5h2v2h-2zM372.2 216.6h2v2h-2zM374.1 216.9h2v2h-2zM385.7 216.7h2v2h-2zM302.4 215.0h2v2h-2zM303.9 215.3h2v2h-2zM305.5 215.2h2v2h-2zM307.6 214.9h2v2h-2zM309.0 215.1h2v2h-2zM310.7 215.0h2v2h-2zM312.4 214.8h2v2h-2zM314.4 215.0h2v2h-2zM316.0 215.1h2v2h-2zM317.8 215.1h2v2h-2zM319.5 215.0h2v2h-2zM321.2 215.2h2v2h-2zM322.6 215.2h2v2h-2zM324.7 215.2h2v2h-2zM325.9 215.0h2v2h-2zM327.7 214.8h2v2h-2zM329.8 215.2h2v2h-2zM331.0 215.3h2v2h-2zM333.1 214.9h2v2h-2zM334.4 214.9h2v2h-2zM336.7 214.8h2v2h-2zM338.2 215.3h2v2h-2zM339.5 215.3h2v2h-2zM343.2 214.9h2v2h-2zM345.0 215.3h2v2h-2zM350.0 215.4h2v2h-2zM351.7 215.2h2v2h-2zM353.5 215.4h2v2h-2zM355.3 215.3h2v2h-2zM356.5 215.2h2v2h-2zM358.8 215.1h2v2h-2zM360.4 214.9h2v2h-2zM361.9 214.9h2v2h-2zM363.5 215.2h2v2h-2zM365.2 214.8h2v2h-2zM367.2 215.3h2v2h-2zM368.4 215.0h2v2h-2zM370.3 215.3h2v2h-2zM371.8 215.1h2v2h-2zM373.5 215.2h2v2h-2zM375.5 214.8h2v2h-2zM377.2 215.0h2v2h-2zM378.7 215.1h2v2h-2zM305.7 213.5h2v2h-2zM307.3 213.2h2v2h-2zM309.1 213.7h2v2h-2zM310.9 213.3h2v2h-2zM312.3 213.2h2v2h-2zM314.2 213.1h2v2h-2zM317.9 213.4h2v2h-2zM319.1 213.4h2v2h-2zM320.8 213.7h2v2h-2zM322.9 213.1h2v2h-2zM324.3 213.6h2v2h-2zM326.4 213.4h2v2h-2zM328.1 213.4h2v2h-2zM329.7 213.4h2v2h-2zM331.1 213.1h2v2h-2zM332.9 213.7h2v2h-2zM334.9 213.2h2v2h-2zM336.7 213.2h2v2h-2zM338.2 213.3h2v2h-2zM339.6 213.5h2v2h-2zM341.6 213.6h2v2h-2zM343.2 213.3h2v2h-2zM345.0 213.2h2v2h-2zM349.7 213.4h2v2h-2zM351.5 213.4h2v2h-2zM353.2 213.5h2v2h-2zM355.2 213.1h2v2h-2zM356.8 213.2h2v2h-2zM358.6 213.2h2v2h-2zM360.0 213.3h2v2h-2zM361.9 213.7h2v2h-2zM363.4 213.4h2v2h-2zM365.1 213.2h2v2h-2zM366.8 213.1h2v2h-2zM368.9 213.6h2v2h-2zM372.0 213.5h2v2h-2zM373.9 213.4h2v2h-2zM375.3 213.2h2v2h-2zM377.2 213.2h2v2h-2zM382.6 213.5h2v2h-2zM383.9 213.3h2v2h-2zM387.2 213.1h2v2h-2zM304.3 211.9h2v2h-2zM305.9 211.6h2v2h-2zM307.5 211.5h2v2h-2zM309.1 211.7h2v2h-2zM311.0 211.9h2v2h-2zM312.7 211.8h2v2h-2zM314.6 211.8h2v2h-2zM316.0 211.7h2v2h-2zM317.6 211.5h2v2h-2zM319.3 211.8h2v2h-2zM320.8 211.5h2v2h-2zM322.7 211.8h2v2h-2zM324.3 211.8h2v2h-2zM328.0 211.8h2v2h-2zM329.6 211.7h2v2h-2zM333.0 211.9h2v2h-2zM334.9 212.0h2v2h-2zM336.2 211.5h2v2h-2zM338.4 211.5h2v2h-2zM340.0 211.8h2v2h-2zM341.7 212.0h2v2h-2zM343.5 211.6h2v2h-2zM345.1 211.6h2v2h-2zM351.9 211.9h2v2h-2zM355.2 211.8h2v2h-2zM356.9 211.6h2v2h-2zM358.3 211.6h2v2h-2zM360.1 211.5h2v2h-2zM362.0 211.9h2v2h-2zM363.6 212.0h2v2h-2zM365.3 211.9h2v2h-2zM367.2 211.9h2v2h-2zM368.6 211.7h2v2h-2zM371.8 211.8h2v2h-2zM375.3 211.7h2v2h-2zM382.1 211.8h2v2h-2zM385.5 211.6h2v2h-2zM307.6 209.9h2v2h-2zM311.0 210.2h2v2h-2zM312.4 210.0h2v2h-2zM314.3 209.8h2v2h-2zM315.9 209.7h2v2h-2zM317.5 209.9h2v2h-2zM319.1 210.2h2v2h-2zM320.9 210.1h2v2h-2zM322.8 209.8h2v2h-2zM324.5 210.0h2v2h-2zM326.5 209.9h2v2h-2zM327.7 210.1h2v2h-2zM329.4 209.8h2v2h-2zM331.5 210.0h2v2h-2zM333.0 210.0h2v2h-2zM334.6 210.1h2v2h-2zM336.4 209.9h2v2h-2zM338.0 209.8h2v2h-2zM339.5 209.8h2v2h-2zM341.3 210.2h2v2h-2zM343.4 209.8h2v2h-2zM344.8 210.0h2v2h-2zM351.9 210.2h2v2h-2zM353.1 209.9h2v2h-2zM354.8 209.9h2v2h-2zM357.0 209.8h2v2h-2zM358.3 210.2h2v2h-2zM360.2 209.8h2v2h-2zM362.2 210.1h2v2h-2zM363.5 210.3h2v2h-2zM365.4 209.8h2v2h-2zM367.0 210.0h2v2h-2zM369.0 210.2h2v2h-2zM370.7 210.1h2v2h-2zM371.9 210.3h2v2h-2zM379.2 209.9h2v2h-2zM305.5 208.2h2v2h-2zM307.8 208.5h2v2h-2zM308.9 208.2h2v2h-2zM310.8 208.1h2v2h-2zM312.6 208.1h2v2h-2zM314.3 208.4h2v2h-2zM316.3 208.2h2v2h-2zM317.4 208.5h2v2h-2zM319.2 208.5h2v2h-2zM320.9 208.5h2v2h-2zM322.7 208.5h2v2h-2zM324.5 208.2h2v2h-2zM326.4 208.5h2v2h-2zM327.6 208.3h2v2h-2zM329.4 208.0h2v2h-2zM331.5 208.4h2v2h-2zM333.0 208.5h2v2h-2zM334.8 208.4h2v2h-2zM336.7 208.4h2v2h-2zM337.9 208.2h2v2h-2zM339.8 208.5h2v2h-2zM343.4 208.6h2v2h-2zM345.0 208.1h2v2h-2zM351.7 208.1h2v2h-2zM353.3 208.1h2v2h-2zM355.1 208.2h2v2h-2zM356.9 208.3h2v2h-2zM358.2 208.4h2v2h-2zM360.2 208.3h2v2h-2zM362.1 208.0h2v2h-2zM363.8 208.2h2v2h-2zM365.3 208.2h2v2h-2zM366.8 208.3h2v2h-2zM368.6 208.4h2v2h-2zM370.5 208.1h2v2h-2zM372.1 208.4h2v2h-2zM373.5 208.3h2v2h-2zM377.0 208.4h2v2h-2zM378.7 208.0h2v2h-2zM310.8 206.4h2v2h-2zM312.4 206.7h2v2h-2zM314.4 206.8h2v2h-2zM315.8 206.4h2v2h-2zM317.9 206.6h2v2h-2zM319.2 206.5h2v2h-2zM321.0 206.7h2v2h-2zM322.9 206.3h2v2h-2zM324.8 206.5h2v2h-2zM326.5 206.7h2v2h-2zM327.9 206.7h2v2h-2zM329.5 206.5h2v2h-2zM331.4 206.4h2v2h-2zM333.0 206.9h2v2h-2zM334.8 206.7h2v2h-2zM336.4 206.3h2v2h-2zM337.8 206.4h2v2h-2zM339.7 206.6h2v2h-2zM341.2 206.4h2v2h-2zM343.5 206.8h2v2h-2zM344.7 206.8h2v2h-2zM351.5 206.7h2v2h-2zM353.7 206.8h2v2h-2zM355.2 206.9h2v2h-2zM357.1 206.8h2v2h-2zM358.6 206.6h2v2h-2zM360.5 206.6h2v2h-2zM361.9 206.8h2v2h-2zM363.6 206.9h2v2h-2zM365.1 206.7h2v2h-2zM366.7 206.9h2v2h-2zM368.9 206.3h2v2h-2zM370.3 206.4h2v2h-2zM372.3 206.7h2v2h-2zM375.4 206.5h2v2h-2zM310.6 205.0h2v2h-2zM314.5 205.1h2v2h-2zM315.8 205.0h2v2h-2zM317.5 205.1h2v2h-2zM319.6 205.2h2v2h-2zM321.2 204.9h2v2h-2zM322.8 204.8h2v2h-2zM324.7 204.8h2v2h-2zM325.9 205.1h2v2h-2zM328.0 205.2h2v2h-2zM329.7 204.8h2v2h-2zM331.5 204.9h2v2h-2zM332.7 204.7h2v2h-2zM334.9 204.6h2v2h-2zM336.3 204.8h2v2h-2zM338.3 204.7h2v2h-2zM339.7 205.1h2v2h-2zM341.2 204.9h2v2h-2zM343.2 204.9h2v2h-2zM344.8 204.9h2v2h-2zM351.8 204.7h2v2h-2zM353.3 205.2h2v2h-2zM355.3 205.2h2v2h-2zM356.7 205.0h2v2h-2zM358.8 204.9h2v2h-2zM360.3 205.0h2v2h-2zM361.9 204.9h2v2h-2zM363.8 204.7h2v2h-2zM365.2 205.2h2v2h-2zM367.0 205.2h2v2h-2zM368.9 204.9h2v2h-2zM370.3 204.7h2v2h-2zM372.1 204.9h2v2h-2zM375.3 204.7h2v2h-2zM317.8 203.2h2v2h-2zM319.5 203.0h2v2h-2zM321.2 203.1h2v2h-2zM322.8 203.5h2v2h-2zM324.5 203.1h2v2h-2zM326.3 203.3h2v2h-2zM327.9 203.1h2v2h-2zM329.6 203.1h2v2h-2zM331.1 202.9h2v2h-2zM333.2 203.4h2v2h-2zM334.8 203.2h2v2h-2zM336.2 203.2h2v2h-2zM338.1 203.5h2v2h-2zM339.8 203.3h2v2h-2zM341.7 203.4h2v2h-2zM343.4 203.3h2v2h-2zM345.0 203.2h2v2h-2zM351.7 203.3h2v2h-2zM353.6 203.2h2v2h-2zM355.2 203.3h2v2h-2zM356.8 203.1h2v2h-2zM358.3 203.1h2v2h-2zM360.1 203.2h2v2h-2zM362.0 203.3h2v2h-2zM363.5 203.2h2v2h-2zM365.1 203.4h2v2h-2zM367.2 202.9h2v2h-2zM370.2 203.3h2v2h-2zM371.9 203.3h2v2h-2zM373.8 203.2h2v2h-2zM314.6 201.4h2v2h-2zM316.0 201.8h2v2h-2zM317.6 201.6h2v2h-2zM319.3 201.3h2v2h-2zM321.1 201.5h2v2h-2zM323.1 201.3h2v2h-2zM324.2 201.5h2v2h-2zM326.5 201.5h2v2h-2zM327.6 201.3h2v2h-2zM331.0 201.4h2v2h-2zM333.0 201.4h2v2h-2zM334.7 201.5h2v2h-2zM336.4 201.5h2v2h-2zM338.2 201.5h2v2h-2zM340.1 201.3h2v2h-2zM341.5 201.4h2v2h-2zM343.4 201.4h2v2h-2zM345.0 201.3h2v2h-2zM351.5 201.5h2v2h-2zM353.6 201.8h2v2h-2zM355.1 201.6h2v2h-2zM357.1 201.5h2v2h-2zM358.2 201.4h2v2h-2zM360.4 201.5h2v2h-2zM362.1 201.4h2v2h-2zM363.6 201.3h2v2h-2zM365.5 201.7h2v2h-2zM367.2 201.2h2v2h-2zM368.6 201.5h2v2h-2zM370.4 201.5h2v2h-2zM375.3 201.3h2v2h-2zM377.2 201.5h2v2h-2zM387.5 201.2h2v2h-2zM317.4 199.6h2v2h-2zM319.5 199.9h2v2h-2zM321.3 199.6h2v2h-2zM322.8 199.8h2v2h-2zM324.4 200.0h2v2h-2zM326.3 199.8h2v2h-2zM327.9 200.1h2v2h-2zM329.5 199.7h2v2h-2zM331.5 199.9h2v2h-2zM333.1 200.0h2v2h-2zM334.4 199.9h2v2h-2zM336.4 199.8h2v2h-2zM338.1 200.0h2v2h-2zM339.9 199.8h2v2h-2zM341.7 199.8h2v2h-2zM343.1 200.1h2v2h-2zM344.6 199.8h2v2h-2zM351.8 199.7h2v2h-2zM353.4 200.0h2v2h-2zM355.3 199.8h2v2h-2zM356.8 200.1h2v2h-2zM358.5 199.7h2v2h-2zM360.1 199.8h2v2h-2zM361.6 199.7h2v2h-2zM363.7 199.6h2v2h-2zM365.2 199.7h2v2h-2zM366.9 199.9h2v2h-2zM369.0 199.5h2v2h-2zM370.6 199.9h2v2h-2zM372.2 199.7h2v2h-2zM373.7 199.8h2v2h-2zM378.9 199.8h2v2h-2zM321.1 198.2h2v2h-2zM322.7 197.8h2v2h-2zM324.7 198.2h2v2h-2zM327.7 198.0h2v2h-2zM329.4 198.3h2v2h-2zM331.1 197.9h2v2h-2zM333.1 197.8h2v2h-2zM334.5 198.3h2v2h-2zM336.1 198.0h2v2h-2zM338.3 198.3h2v2h-2zM339.5 198.4h2v2h-2zM341.6 198.3h2v2h-2zM343.0 197.9h2v2h-2zM344.7 198.0h2v2h-2zM351.6 197.9h2v2h-2zM353.3 198.3h2v2h-2zM355.3 198.3h2v2h-2zM356.8 198.1h2v2h-2zM358.7 198.0h2v2h-2zM359.9 198.4h2v2h-2zM363.4 198.2h2v2h-2zM365.3 197.9h2v2h-2zM367.2 198.2h2v2h-2zM372.1 198.0h2v2h-2zM375.7 198.0h2v2h-2zM376.9 197.8h2v2h-2zM378.6 198.1h2v2h-2zM384.3 197.9h2v2h-2zM319.1 196.2h2v2h-2zM326.4 196.3h2v2h-2zM327.8 196.3h2v2h-2zM329.5 196.4h2v2h-2zM331.3 196.6h2v2h-2zM332.9 196.5h2v2h-2zM334.6 196.7h2v2h-2zM336.6 196.5h2v2h-2zM338.1 196.5h2v2h-2zM339.9 196.6h2v2h-2zM341.6 196.5h2v2h-2zM343.4 196.4h2v2h-2zM344.9 196.6h2v2h-2zM351.7 196.6h2v2h-2zM353.6 196.3h2v2h-2zM355.2 196.4h2v2h-2zM356.6 196.4h2v2h-2zM358.8 196.5h2v2h-2zM360.3 196.6h2v2h-2zM361.7 196.6h2v2h-2zM363.6 196.3h2v2h-2zM366.8 196.1h2v2h-2zM368.7 196.4h2v2h-2zM370.1 196.3h2v2h-2zM373.6 196.2h2v2h-2zM321.4 194.5h2v2h-2zM324.2 194.8h2v2h-2zM326.4 194.5h2v2h-2zM327.9 194.4h2v2h-2zM329.5 194.9h2v2h-2zM331.6 194.5h2v2h-2zM332.9 194.6h2v2h-2zM334.9 194.4h2v2h-2zM336.2 194.6h2v2h-2zM338.1 195.0h2v2h-2zM339.8 195.0h2v2h-2zM341.3 194.8h2v2h-2zM343.3 194.7h2v2h-2zM344.8 195.0h2v2h-2zM351.9 194.7h2v2h-2zM353.4 195.0h2v2h-2zM355.4 194.6h2v2h-2zM356.8 194.7h2v2h-2zM358.7 194.5h2v2h-2zM360.2 194.6h2v2h-2zM362.1 195.0h2v2h-2zM363.6 194.4h2v2h-2zM365.2 194.5h2v2h-2zM366.9 194.6h2v2h-2zM368.5 195.0h2v2h-2zM370.2 194.7h2v2h-2zM372.1 194.5h2v2h-2zM321.1 193.2h2v2h-2zM324.7 192.7h2v2h-2zM326.0 192.9h2v2h-2zM328.0 193.1h2v2h-2zM331.0 192.7h2v2h-2zM332.8 192.8h2v2h-2zM334.5 193.2h2v2h-2zM336.4 193.2h2v2h-2zM338.1 192.7h2v2h-2zM340.1 193.0h2v2h-2zM341.6 193.0h2v2h-2zM343.3 193.1h2v2h-2zM345.2 193.3h2v2h-2zM351.8 193.2h2v2h-2zM353.2 193.2h2v2h-2zM354.8 193.1h2v2h-2zM356.7 193.3h2v2h-2zM358.7 192.9h2v2h-2zM360.1 193.0h2v2h-2zM362.0 192.8h2v2h-2zM363.4 192.8h2v2h-2zM365.1 192.9h2v2h-2zM367.0 192.8h2v2h-2zM369.0 193.0h2v2h-2zM370.1 192.9h2v2h-2zM372.2 192.8h2v2h-2zM373.6 193.1h2v2h-2zM377.1 192.9h2v2h-2zM324.3 191.0h2v2h-2zM327.6 191.2h2v2h-2zM329.4 191.5h2v2h-2zM331.3 191.3h2v2h-2zM333.3 191.3h2v2h-2zM334.9 191.0h2v2h-2zM336.6 191.4h2v2h-2zM337.8 191.5h2v2h-2zM339.7 191.6h2v2h-2zM341.3 191.5h2v2h-2zM343.1 191.1h2v2h-2zM344.9 191.0h2v2h-2zM353.2 191.4h2v2h-2zM355.4 191.3h2v2h-2zM357.0 191.3h2v2h-2zM358.3 191.5h2v2h-2zM360.2 191.6h2v2h-2zM362.0 191.1h2v2h-2zM363.7 191.2h2v2h-2zM368.8 191.2h2v2h-2zM373.8 191.4h2v2h-2zM375.2 191.1h2v2h-2zM324.5 189.7h2v2h-2zM326.0 189.6h2v2h-2zM329.7 189.6h2v2h-2zM333.1 189.4h2v2h-2zM334.6 189.5h2v2h-2zM336.5 189.7h2v2h-2zM337.9 189.9h2v2h-2zM339.9 189.4h2v2h-2zM341.6 189.6h2v2h-2zM343.2 189.3h2v2h-2zM345.1 189.4h2v2h-2zM353.3 189.9h2v2h-2zM355.0 189.6h2v2h-2zM356.8 189.3h2v2h-2zM358.4 189.9h2v2h-2zM360.1 189.5h2v2h-2zM361.7 189.5h2v2h-2zM363.5 189.4h2v2h-2zM365.5 189.5h2v2h-2zM367.2 189.9h2v2h-2zM368.4 189.8h2v2h-2zM372.0 189.8h2v2h-2zM375.8 189.4h2v2h-2zM377.3 189.9h2v2h-2zM380.3 189.4h2v2h-2zM324.6 188.0h2v2h-2zM326.4 187.8h2v2h-2zM328.1 187.9h2v2h-2zM331.4 187.7h2v2h-2zM334.8 188.0h2v2h-2zM338.2 187.8h2v2h-2zM340.1 187.6h2v2h-2zM341.6 188.2h2v2h-2zM343.0 187.6h2v2h-2zM344.8 187.8h2v2h-2zM353.6 188.2h2v2h-2zM356.9 187.7h2v2h-2zM358.5 187.8h2v2h-2zM360.0 188.1h2v2h-2zM362.0 187.6h2v2h-2zM363.8 188.2h2v2h-2zM365.4 188.1h2v2h-2zM368.5 187.6h2v2h-2zM372.2 187.7h2v2h-2zM375.5 188.0h2v2h-2zM379.1 187.6h2v2h-2zM329.7 186.3h2v2h-2zM332.9 186.4h2v2h-2zM334.9 186.1h2v2h-2zM336.6 186.4h2v2h-2zM338.2 186.5h2v2h-2zM339.8 186.3h2v2h-2zM341.4 186.1h2v2h-2zM343.3 186.1h2v2h-2zM353.1 186.4h2v2h-2zM355.3 186.4h2v2h-2zM356.6 186.0h2v2h-2zM358.8 186.4h2v2h-2zM359.9 186.2h2v2h-2zM361.9 186.4h2v2h-2zM365.6 186.2h2v2h-2zM366.8 186.0h2v2h-2zM368.6 186.2h2v2h-2zM370.3 186.0h2v2h-2zM372.3 186.2h2v2h-2zM375.8 185.9h2v2h-2zM378.8 186.2h2v2h-2zM329.5 184.4h2v2h-2zM332.8 184.3h2v2h-2zM334.4 184.6h2v2h-2zM337.9 184.6h2v2h-2zM339.7 184.7h2v2h-2zM341.4 184.2h2v2h-2zM343.5 184.5h2v2h-2zM353.4 184.4h2v2h-2zM355.1 184.4h2v2h-2zM356.5 184.4h2v2h-2zM358.5 184.5h2v2h-2zM360.4 184.7h2v2h-2zM361.8 184.7h2v2h-2zM363.5 184.2h2v2h-2zM370.6 184.6h2v2h-2zM334.6 182.7h2v2h-2zM336.5 182.9h2v2h-2zM338.2 182.5h2v2h-2zM339.9 182.9h2v2h-2zM341.3 183.1h2v2h-2zM343.3 183.0h2v2h-2zM353.2 182.6h2v2h-2zM355.3 182.7h2v2h-2zM357.0 182.5h2v2h-2zM358.8 182.8h2v2h-2zM360.4 182.7h2v2h-2zM362.1 183.1h2v2h-2zM363.7 182.5h2v2h-2zM367.3 182.9h2v2h-2zM368.5 182.8h2v2h-2zM375.3 182.6h2v2h-2zM377.2 183.1h2v2h-2zM378.7 182.9h2v2h-2zM332.8 181.1h2v2h-2zM334.5 181.3h2v2h-2zM336.4 181.2h2v2h-2zM338.4 181.4h2v2h-2zM339.9 180.8h2v2h-2zM341.4 180.9h2v2h-2zM343.0 181.3h2v2h-2zM353.4 181.1h2v2h-2zM355.2 180.8h2v2h-2zM356.6 181.1h2v2h-2zM360.1 181.1h2v2h-2zM361.8 181.0h2v2h-2zM363.9 180.8h2v2h-2zM367.2 181.0h2v2h-2zM370.2 181.2h2v2h-2zM372.1 181.4h2v2h-2zM379.2 181.0h2v2h-2zM380.6 181.0h2v2h-2zM331.6 179.4h2v2h-2zM338.3 179.4h2v2h-2zM341.6 179.2h2v2h-2zM343.5 179.6h2v2h-2zM353.3 179.1h2v2h-2zM355.3 179.5h2v2h-2zM356.8 179.5h2v2h-2zM358.7 179.2h2v2h-2zM360.3 179.1h2v2h-2zM362.1 179.2h2v2h-2zM341.3 177.4h2v2h-2zM343.0 177.7h2v2h-2zM353.4 177.9h2v2h-2zM355.3 177.6h2v2h-2zM356.7 177.5h2v2h-2zM358.3 177.5h2v2h-2zM360.3 178.0h2v2h-2zM361.7 178.0h2v2h-2zM363.8 178.0h2v2h-2zM367.3 177.9h2v2h-2zM369.0 177.8h2v2h-2zM370.4 177.6h2v2h-2zM375.7 177.6h2v2h-2zM377.3 177.5h2v2h-2zM338.3 176.1h2v2h-2zM341.3 175.9h2v2h-2zM343.4 176.3h2v2h-2zM353.5 176.3h2v2h-2zM355.1 175.9h2v2h-2zM358.3 176.2h2v2h-2zM360.0 176.0h2v2h-2zM361.8 175.7h2v2h-2zM363.3 175.9h2v2h-2zM365.4 175.8h2v2h-2zM368.7 175.9h2v2h-2zM372.0 176.2h2v2h-2zM373.8 176.0h2v2h-2zM377.2 175.7h2v2h-2zM378.8 175.9h2v2h-2zM355.2 174.3h2v2h-2zM357.0 174.3h2v2h-2zM358.6 174.3h2v2h-2zM361.9 174.5h2v2h-2zM367.0 174.4h2v2h-2zM377.1 174.2h2v2h-2zM380.4 174.1h2v2h-2zM339.6 172.7h2v2h-2zM355.2 172.3h2v2h-2zM357.0 172.4h2v2h-2zM358.8 172.9h2v2h-2zM363.8 172.8h2v2h-2zM365.5 172.8h2v2h-2zM370.2 172.8h2v2h-2zM372.0 172.8h2v2h-2zM341.3 171.0h2v2h-2zM355.2 171.0h2v2h-2zM356.8 170.8h2v2h-2zM358.5 171.0h2v2h-2zM365.5 170.8h2v2h-2zM370.1 170.6h2v2h-2zM355.2 169.5h2v2h-2zM359.9 169.0h2v2h-2zM361.9 169.4h2v2h-2zM363.7 168.9h2v2h-2zM367.0 169.4h2v2h-2zM355.3 167.6h2v2h-2zM361.9 167.5h2v2h-2zM366.7 167.7h2v2h-2zM355.1 166.1h2v2h-2zM357.1 166.1h2v2h-2zM358.7 165.6h2v2h-2zM360.3 165.5h2v2h-2zM362.0 165.7h2v2h-2zM363.5 165.6h2v2h-2zM365.6 165.9h2v2h-2zM379.2 165.5h2v2h-2zM355.3 163.8h2v2h-2zM356.8 164.2h2v2h-2zM363.9 163.8h2v2h-2zM366.7 163.9h2v2h-2zM377.3 163.9h2v2h-2zM355.0 162.1h2v2h-2zM356.7 162.2h2v2h-2zM358.4 162.1h2v2h-2zM361.8 162.1h2v2h-2zM365.0 162.3h2v2h-2zM374.0 162.6h2v2h-2zM355.1 160.6h2v2h-2zM356.7 160.4h2v2h-2zM358.7 160.7h2v2h-2zM360.3 160.6h2v2h-2zM361.8 160.9h2v2h-2zM369.0 160.8h2v2h-2zM356.8 158.8h2v2h-2zM358.7 158.7h2v2h-2zM360.2 159.1h2v2h-2zM368.7 158.9h2v2h-2zM370.4 159.3h2v2h-2zM377.2 159.3h2v2h-2zM370.7 157.2h2v2h-2zM379.1 157.1h2v2h-2zM360.2 155.3h2v2h-2zM365.3 155.4h2v2h-2zM370.5 155.8h2v2h-2zM377.0 155.8h2v2h-2zM354.8 154.1h2v2h-2zM356.6 153.6h2v2h-2zM358.5 153.9h2v2h-2zM361.6 154.1h2v2h-2zM356.7 152.1h2v2h-2zM360.2 152.0h2v2h-2zM363.8 152.0h2v2h-2zM365.0 152.1h2v2h-2zM355.3 150.7h2v2h-2zM360.3 150.5h2v2h-2zM365.2 150.6h2v2h-2zM358.7 149.0h2v2h-2zM365.4 149.1h2v2h-2zM362.2 147.2h2v2h-2zM365.4 146.8h2v2h-2zM355.0 145.5h2v2h-2zM357.0 145.3h2v2h-2zM358.7 145.3h2v2h-2zM359.9 145.2h2v2h-2zM368.5 145.6h2v2h-2zM360.5 143.5h2v2h-2zM361.9 143.7h2v2h-2zM358.4 142.0h2v2h-2zM360.2 142.3h2v2h-2zM362.1 142.2h2v2h-2zM367.0 142.2h2v2h-2zM356.8 140.5h2v2h-2zM360.3 140.2h2v2h-2zM363.3 138.3h2v2h-2zM368.9 138.3h2v2h-2zM360.5 136.9h2v2h-2zM355.1 135.3h2v2h-2zM360.0 135.2h2v2h-2zM361.8 135.5h2v2h-2zM358.3 128.3h2v2h-2zM360.5 126.7h2v2h-2zM358.7 119.6h2v2h-2zM360.4 116.7h2v2h-2zM360.1 115.0h2v2h-2zM282.0 260.6h2v2h-2zM283.8 260.6h2v2h-2zM291.0 260.6h2v2h-2zM292.8 260.6h2v2h-2zM294.6 260.6h2v2h-2zM296.4 260.6h2v2h-2zM298.2 260.6h2v2h-2zM383.6 260.6h2v2h-2zM385.4 260.6h2v2h-2zM387.2 260.6h2v2h-2zM389.0 260.6h2v2h-2zM390.8 260.6h2v2h-2zM392.6 260.6h2v2h-2zM394.4 260.6h2v2h-2zM396.2 260.6h2v2h-2zM401.6 260.6h2v2h-2zM403.4 260.6h2v2h-2zM405.2 260.6h2v2h-2zM217.8 260.3h2v2h-2zM239.7 260.3h2v2h-2zM252.5 260.3h2v2h-2zM258.6 260.3h2v2h-2zM266.7 260.3h2v2h-2zM273.2 260.3h2v2h-2zM278.0 260.3h2v2h-2zM280.0 260.3h2v2h-2zM293.7 216.4h2v2h-2zM293.7 227.7h2v2h-2zM294.6 237.2h2v2h-2zM295.6 244.8h2v2h-2zM400.5 245.9h2v2h-2zM413.8 246.6h2v2h-2zM408.7 251.0h2v2h-2zM409.2 254.5h2v2h-2zM402.0 259.1h2v2h-2zM410.2 259.7h2v2h-2zM431.7 254.5h2v2h-2zM442.4 260.2h2v2h-2zM446.8 248.4h2v2h-2zM413.3 245.6h2v2h-2zM368.1 50.0h2v2h-2zM359.0 60.8h2v2h-2zM362.9 64.0h2v2h-2zM362.7 71.6h2v2h-2zM367.6 82.7h2v2h-2zM362.7 89.1h2v2h-2zM362.9 92.0h2v2h-2zM357.1 94.0h2v2h-2zM366.2 97.9h2v2h-2zM368.1 103.7h2v2h-2zM360.2 105.3h2v2h-2zM360.5 110.0h2v2h-2zM360.3 113.0h2v2h-2zM360.3 115.5h2v2h-2zM360.3 118.0h2v2h-2zM357.0 117.9h2v2h-2zM367.6 116.9h2v2h-2zM363.1 119.7h2v2h-2zM361.8 122.3h2v2h-2zM357.0 122.7h2v2h-2zM358.7 129.3h2v2h-2zM361.8 128.0h2v2h-2zM368.3 129.3h2v2h-2zM355.6 135.0h2v2h-2zM357.8 135.4h2v2h-2zM362.0 135.0h2v2h-2zM366.6 137.2h2v2h-2zM368.8 136.7h2v2h-2zM357.8 139.4h2v2h-2zM359.6 139.4h2v2h-2zM362.6 142.0h2v2h-2zM371.0 140.7h2v2h-2zM368.8 143.7h2v2h-2zM356.5 146.0h2v2h-2zM362.6 146.4h2v2h-2zM366.2 146.4h2v2h-2zM375.8 146.8h2v2h-2zM340.8 151.8h2v2h-2zM382.8 153.2h2v2h-2zM384.0 194.0h2v2h-2zM392.0 194.0h2v2h-2zM388.5 204.0h2v2h-2zM392.0 204.0h2v2h-2zM389.0 214.0h2v2h-2zM394.0 214.0h2v2h-2zM339.1 169.7h2v2h-2zM332.0 178.0h2v2h-2zM328.0 182.0h2v2h-2z" fill="#bebebe"/>
<line x1="209.00" y1="42.50" x2="457.00" y2="42.50" stroke="#333" stroke-width="1" />
<line x1="457.00" y1="42.00" x2="457.00" y2="271.00" stroke="#999" stroke-width="1.6" />
<line x1="381.50" y1="44.00" x2="381.50" y2="275.00" stroke="#000" stroke-width="1.1" stroke-dasharray="2.2 1.9"/>
<line x1="205.00" y1="80.60" x2="209.00" y2="80.60" stroke="#777" stroke-width="1" />
<text transform="translate(196.20,80.60) rotate(-90)" x="0" y="0" text-anchor="middle" dominant-baseline="central" font-size="9.5" fill="#433" textLength="12.0" lengthAdjust="spacingAndGlyphs">200</text>
<line x1="205.00" y1="125.90" x2="209.00" y2="125.90" stroke="#777" stroke-width="1" />
<text transform="translate(196.20,125.90) rotate(-90)" x="0" y="0" text-anchor="middle" dominant-baseline="central" font-size="9.5" fill="#433" textLength="12.0" lengthAdjust="spacingAndGlyphs">150</text>
<line x1="205.00" y1="171.30" x2="209.00" y2="171.30" stroke="#777" stroke-width="1" />
<text transform="translate(196.20,171.30) rotate(-90)" x="0" y="0" text-anchor="middle" dominant-baseline="central" font-size="9.5" fill="#433" textLength="12.0" lengthAdjust="spacingAndGlyphs">100</text>
<line x1="205.00" y1="216.60" x2="209.00" y2="216.60" stroke="#777" stroke-width="1" />
<text transform="translate(196.20,216.60) rotate(-90)" x="0" y="0" text-anchor="middle" dominant-baseline="central" font-size="9.5" fill="#433" textLength="8.0" lengthAdjust="spacingAndGlyphs">50</text>
<line x1="205.00" y1="261.90" x2="209.00" y2="261.90" stroke="#777" stroke-width="1" />
<text transform="translate(196.20,261.90) rotate(-90)" x="0" y="0" text-anchor="middle" dominant-baseline="central" font-size="9.5" fill="#433" textLength="4.0" lengthAdjust="spacingAndGlyphs">0</text>
<text transform="translate(179.20,156.80) rotate(-90)" x="0" y="0" text-anchor="middle" dominant-baseline="central" font-size="9.5" fill="#222" textLength="65.5" lengthAdjust="spacingAndGlyphs">-log10(P-val)</text>
<line x1="253.60" y1="271.00" x2="253.60" y2="275.00" stroke="#333" stroke-width="1" />
<line x1="285.50" y1="271.00" x2="285.50" y2="275.00" stroke="#333" stroke-width="1" />
<line x1="317.40" y1="271.00" x2="317.40" y2="275.00" stroke="#333" stroke-width="1" />
<line x1="349.30" y1="271.00" x2="349.30" y2="275.00" stroke="#333" stroke-width="1" />
<line x1="381.20" y1="271.00" x2="381.20" y2="275.00" stroke="#333" stroke-width="1" />
<line x1="413.10" y1="271.00" x2="413.10" y2="275.00" stroke="#333" stroke-width="1" />
<line x1="445.00" y1="271.00" x2="445.00" y2="275.00" stroke="#333" stroke-width="1" />
<text transform="translate(221.70,287.00) scale(0.95,1)" x="0" y="0" text-anchor="middle" font-size="9.6" fill="#333">-8</text>
<text transform="translate(253.60,287.00) scale(0.95,1)" x="0" y="0" text-anchor="middle" font-size="9.6" fill="#333">-6</text>
<text transform="translate(285.50,287.00) scale(0.95,1)" x="0" y="0" text-anchor="middle" font-size="9.6" fill="#333">-4</text>
<text transform="translate(317.40,287.00) scale(0.95,1)" x="0" y="0" text-anchor="middle" font-size="9.6" fill="#333">-2</text>
<text transform="translate(349.30,287.00) scale(0.95,1)" x="0" y="0" text-anchor="middle" font-size="9.6" fill="#333">0</text>
<text transform="translate(381.20,287.00) scale(0.95,1)" x="0" y="0" text-anchor="middle" font-size="9.6" fill="#333">2</text>
<text transform="translate(413.10,287.00) scale(0.95,1)" x="0" y="0" text-anchor="middle" font-size="9.6" fill="#333">4</text>
<text transform="translate(445.00,287.00) scale(0.95,1)" x="0" y="0" text-anchor="middle" font-size="9.6" fill="#333">6</text>
<line x1="174.00" y1="213.40" x2="249.00" y2="213.40" stroke="#000" stroke-width="1.5" />
<polygon points="260.3,213.6 247.8,207.7 247.8,219.7" fill="#000"/>
<line x1="440.00" y1="209.80" x2="491.00" y2="209.80" stroke="#000" stroke-width="1.5" />
<polygon points="427.8,210.0 440.3,204.0 440.3,216.0" fill="#000"/>
<line x1="72.50" y1="569.50" x2="77.50" y2="569.50" stroke="#333" stroke-width="1" />
<text transform="translate(62.30,569.50) rotate(-90)" x="0" y="0" text-anchor="middle" dominant-baseline="central" font-size="13.6" fill="#333" textLength="6.9" lengthAdjust="spacingAndGlyphs">0</text>
<line x1="72.50" y1="531.08" x2="77.50" y2="531.08" stroke="#333" stroke-width="1" />
<text transform="translate(62.30,531.08) rotate(-90)" x="0" y="0" text-anchor="middle" dominant-baseline="central" font-size="13.6" fill="#333" textLength="6.9" lengthAdjust="spacingAndGlyphs">2</text>
<line x1="72.50" y1="492.66" x2="77.50" y2="492.66" stroke="#333" stroke-width="1" />
<text transform="translate(62.30,492.66) rotate(-90)" x="0" y="0" text-anchor="middle" dominant-baseline="central" font-size="13.6" fill="#333" textLength="6.9" lengthAdjust="spacingAndGlyphs">4</text>
<line x1="72.50" y1="454.24" x2="77.50" y2="454.24" stroke="#333" stroke-width="1" />
<text transform="translate(62.30,454.24) rotate(-90)" x="0" y="0" text-anchor="middle" dominant-baseline="central" font-size="13.6" fill="#333" textLength="6.9" lengthAdjust="spacingAndGlyphs">6</text>
<line x1="72.50" y1="415.82" x2="77.50" y2="415.82" stroke="#333" stroke-width="1" />
<text transform="translate(62.30,415.82) rotate(-90)" x="0" y="0" text-anchor="middle" dominant-baseline="central" font-size="13.6" fill="#333" textLength="6.9" lengthAdjust="spacingAndGlyphs">8</text>
<line x1="121.50" y1="546.50" x2="121.50" y2="522.50" stroke="#111" stroke-width="1.1" stroke-dasharray="3.5 2.8"/>
<line x1="121.50" y1="562.50" x2="121.50" y2="569.50" stroke="#111" stroke-width="1.1" stroke-dasharray="3.5 2.8"/>
<line x1="111.50" y1="522.50" x2="130.50" y2="522.50" stroke="#222" stroke-width="1" />
<line x1="111.50" y1="569.50" x2="130.50" y2="569.50" stroke="#222" stroke-width="1" />
<line x1="121.50" y1="494.50" x2="121.50" y2="522.50" stroke="#000" stroke-width="2" />
<rect x="120.5" y="489.5" width="2" height="2" fill="#000"/>
<rect x="120.5" y="478.0" width="2" height="2" fill="#000"/>
<rect x="120.5" y="449.5" width="2" height="2" fill="#000"/>
<rect x="102.50" y="546.50" width="37.00" height="16.00" fill="#90ee90" stroke="#222" stroke-width="1"/>
<line x1="102.50" y1="557.00" x2="139.50" y2="557.00" stroke="#000" stroke-width="2.3" />
<line x1="121.50" y1="576.50" x2="121.50" y2="581.50" stroke="#333" stroke-width="1" />
<line x1="194.50" y1="521.50" x2="194.50" y2="474.50" stroke="#111" stroke-width="1.1" stroke-dasharray="3.5 2.8"/>
<line x1="194.50" y1="552.50" x2="194.50" y2="569.50" stroke="#111" stroke-width="1.1" stroke-dasharray="3.5 2.8"/>
<line x1="185.50" y1="474.50" x2="204.50" y2="474.50" stroke="#222" stroke-width="1" />
<line x1="185.50" y1="569.50" x2="204.50" y2="569.50" stroke="#222" stroke-width="1" />
<line x1="194.50" y1="439.50" x2="194.50" y2="474.50" stroke="#000" stroke-width="2" />
<rect x="193.5" y="430.5" width="2" height="2" fill="#000"/>
<rect x="193.5" y="435.0" width="2" height="2" fill="#000"/>
<rect x="193.5" y="419.0" width="2" height="2" fill="#000"/>
<rect x="193.5" y="399.0" width="2" height="2" fill="#000"/>
<rect x="176.50" y="521.50" width="37.00" height="31.00" fill="#ffd700" stroke="#222" stroke-width="1"/>
<line x1="176.50" y1="538.90" x2="213.50" y2="538.90" stroke="#000" stroke-width="2.3" />
<line x1="194.50" y1="576.50" x2="194.50" y2="581.50" stroke="#333" stroke-width="1" />
<line x1="77.50" y1="394.50" x2="237.50" y2="394.50" stroke="#000" stroke-width="1.1" />
<line x1="77.50" y1="576.50" x2="237.50" y2="576.50" stroke="#000" stroke-width="1.1" />
<line x1="77.50" y1="394.50" x2="77.50" y2="576.50" stroke="#000" stroke-width="1" />
<line x1="237.50" y1="394.50" x2="237.50" y2="576.50" stroke="#000" stroke-width="1" />
<text x="113.90" y="367.30" font-size="19" font-weight="normal" fill="#000" textLength="108.00" lengthAdjust="spacingAndGlyphs">PD-L1/CD274</text>
<text x="122.10" y="391.80" font-size="11.5" font-weight="normal" fill="#222" textLength="68.00" lengthAdjust="spacingAndGlyphs">p = 3.5e-120</text>
<text x="105.20" y="605.20" font-size="18" font-weight="normal" fill="#000" textLength="31.00" lengthAdjust="spacingAndGlyphs">Sec-</text>
<text x="183.70" y="605.20" font-size="18" font-weight="normal" fill="#000" textLength="35.00" lengthAdjust="spacingAndGlyphs">Sec+</text>
<line x1="268.50" y1="567.60" x2="273.50" y2="567.60" stroke="#333" stroke-width="1" />
<text transform="translate(257.20,567.60) rotate(-90)" x="0" y="0" text-anchor="middle" dominant-baseline="central" font-size="13.6" fill="#333" textLength="6.9" lengthAdjust="spacingAndGlyphs">0</text>
<line x1="268.50" y1="542.07" x2="273.50" y2="542.07" stroke="#333" stroke-width="1" />
<text transform="translate(257.20,542.07) rotate(-90)" x="0" y="0" text-anchor="middle" dominant-baseline="central" font-size="13.6" fill="#333" textLength="6.9" lengthAdjust="spacingAndGlyphs">1</text>
<line x1="268.50" y1="516.54" x2="273.50" y2="516.54" stroke="#333" stroke-width="1" />
<text transform="translate(257.20,516.54) rotate(-90)" x="0" y="0" text-anchor="middle" dominant-baseline="central" font-size="13.6" fill="#333" textLength="6.9" lengthAdjust="spacingAndGlyphs">2</text>
<line x1="268.50" y1="491.01" x2="273.50" y2="491.01" stroke="#333" stroke-width="1" />
<text transform="translate(257.20,491.01) rotate(-90)" x="0" y="0" text-anchor="middle" dominant-baseline="central" font-size="13.6" fill="#333" textLength="6.9" lengthAdjust="spacingAndGlyphs">3</text>
<line x1="268.50" y1="465.48" x2="273.50" y2="465.48" stroke="#333" stroke-width="1" />
<text transform="translate(257.20,465.48) rotate(-90)" x="0" y="0" text-anchor="middle" dominant-baseline="central" font-size="13.6" fill="#333" textLength="6.9" lengthAdjust="spacingAndGlyphs">4</text>
<line x1="268.50" y1="439.95" x2="273.50" y2="439.95" stroke="#333" stroke-width="1" />
<text transform="translate(257.20,439.95) rotate(-90)" x="0" y="0" text-anchor="middle" dominant-baseline="central" font-size="13.6" fill="#333" textLength="6.9" lengthAdjust="spacingAndGlyphs">5</text>
<line x1="268.50" y1="414.42" x2="273.50" y2="414.42" stroke="#333" stroke-width="1" />
<text transform="translate(257.20,414.42) rotate(-90)" x="0" y="0" text-anchor="middle" dominant-baseline="central" font-size="13.6" fill="#333" textLength="6.9" lengthAdjust="spacingAndGlyphs">6</text>
<line x1="315.50" y1="560.50" x2="315.50" y2="550.50" stroke="#111" stroke-width="1.1" stroke-dasharray="3.5 2.8"/>
<line x1="315.50" y1="567.50" x2="315.50" y2="567.50" stroke="#111" stroke-width="1.1" stroke-dasharray="3.5 2.8"/>
<line x1="306.50" y1="550.50" x2="325.50" y2="550.50" stroke="#999" stroke-width="1" />
<line x1="306.50" y1="567.50" x2="325.50" y2="567.50" stroke="#222" stroke-width="1" />
<line x1="315.50" y1="514.00" x2="315.50" y2="550.50" stroke="#000" stroke-width="1.3" />
<rect x="314.5" y="486.3" width="2" height="1.6" fill="#000"/>
<rect x="314.5" y="488.9" width="2" height="1.6" fill="#000"/>
<rect x="314.5" y="491.5" width="2" height="1.6" fill="#000"/>
<rect x="314.5" y="494.1" width="2" height="1.6" fill="#000"/>
<rect x="314.5" y="496.7" width="2" height="1.6" fill="#000"/>
<rect x="314.5" y="499.3" width="2" height="1.6" fill="#000"/>
<rect x="314.5" y="501.9" width="2" height="1.6" fill="#000"/>
<rect x="314.5" y="504.5" width="2" height="1.6" fill="#000"/>
<rect x="314.5" y="507.1" width="2" height="1.6" fill="#000"/>
<rect x="314.5" y="509.7" width="2" height="1.6" fill="#000"/>
<rect x="314.5" y="512.3" width="2" height="1.6" fill="#000"/>
<rect x="314.5" y="469.5" width="2" height="2" fill="#000"/>
<rect x="297.50" y="560.50" width="37.00" height="7.00" fill="#90ee90" stroke="#222" stroke-width="1"/>
<line x1="297.50" y1="565.70" x2="334.50" y2="565.70" stroke="#000" stroke-width="2.3" />
<line x1="315.50" y1="575.00" x2="315.50" y2="580.00" stroke="#333" stroke-width="1" />
<line x1="389.50" y1="543.00" x2="389.50" y2="508.50" stroke="#888" stroke-width="1.1" stroke-dasharray="3.5 2.8"/>
<line x1="389.50" y1="566.00" x2="389.50" y2="568.00" stroke="#888" stroke-width="1.1" stroke-dasharray="3.5 2.8"/>
<line x1="380.50" y1="508.50" x2="399.50" y2="508.50" stroke="#222" stroke-width="1" />
<line x1="380.50" y1="568.00" x2="399.50" y2="568.00" stroke="#222" stroke-width="1" />
<line x1="389.50" y1="457.00" x2="389.50" y2="508.50" stroke="#000" stroke-width="1.3" />
<rect x="388.5" y="425.7" width="2" height="1.6" fill="#000"/>
<rect x="388.5" y="428.1" width="2" height="1.6" fill="#000"/>
<rect x="388.5" y="430.5" width="2" height="1.6" fill="#000"/>
<rect x="388.5" y="432.9" width="2" height="1.6" fill="#000"/>
<rect x="388.5" y="435.3" width="2" height="1.6" fill="#000"/>
<rect x="388.5" y="437.7" width="2" height="1.6" fill="#000"/>
<rect x="388.5" y="440.1" width="2" height="1.6" fill="#000"/>
<rect x="388.5" y="442.5" width="2" height="1.6" fill="#000"/>
<rect x="388.5" y="444.9" width="2" height="1.6" fill="#000"/>
<rect x="388.5" y="447.3" width="2" height="1.6" fill="#000"/>
<rect x="388.5" y="449.7" width="2" height="1.6" fill="#000"/>
<rect x="388.5" y="452.1" width="2" height="1.6" fill="#000"/>
<rect x="388.5" y="454.5" width="2" height="1.6" fill="#000"/>
<rect x="388.5" y="456.9" width="2" height="1.6" fill="#000"/>
<rect x="388.5" y="399.0" width="2" height="2" fill="#000"/>
<rect x="371.50" y="543.00" width="37.00" height="23.00" fill="#ffd700" stroke="#222" stroke-width="1"/>
<line x1="371.50" y1="559.60" x2="408.50" y2="559.60" stroke="#000" stroke-width="2.3" />
<line x1="389.50" y1="575.00" x2="389.50" y2="580.00" stroke="#333" stroke-width="1" />
<line x1="273.50" y1="394.50" x2="433.00" y2="394.50" stroke="#000" stroke-width="1.1" />
<line x1="273.50" y1="575.00" x2="433.00" y2="575.00" stroke="#000" stroke-width="1.1" />
<line x1="273.50" y1="394.50" x2="273.50" y2="575.00" stroke="#000" stroke-width="1" />
<line x1="433.00" y1="394.50" x2="433.00" y2="575.00" stroke="#000" stroke-width="1" />
<text x="328.60" y="366.90" font-size="19" font-weight="normal" fill="#000" textLength="41.00" lengthAdjust="spacingAndGlyphs">IFNG</text>
<text x="313.70" y="391.80" font-size="11.5" font-weight="normal" fill="#222" textLength="75.75" lengthAdjust="spacingAndGlyphs">p = 2.24e-111</text>
<text x="298.40" y="605.20" font-size="18" font-weight="normal" fill="#000" textLength="31.00" lengthAdjust="spacingAndGlyphs">Sec-</text>
<text x="376.90" y="605.20" font-size="18" font-weight="normal" fill="#000" textLength="35.00" lengthAdjust="spacingAndGlyphs">Sec+</text>
<line x1="476.80" y1="569.20" x2="481.80" y2="569.20" stroke="#333" stroke-width="1" />
<text transform="translate(465.80,569.20) rotate(-90)" x="0" y="0" text-anchor="middle" dominant-baseline="central" font-size="13.6" fill="#333" textLength="6.9" lengthAdjust="spacingAndGlyphs">0</text>
<line x1="476.80" y1="519.60" x2="481.80" y2="519.60" stroke="#333" stroke-width="1" />
<text transform="translate(465.80,519.60) rotate(-90)" x="0" y="0" text-anchor="middle" dominant-baseline="central" font-size="13.6" fill="#333" textLength="6.9" lengthAdjust="spacingAndGlyphs">5</text>
<line x1="476.80" y1="470.00" x2="481.80" y2="470.00" stroke="#333" stroke-width="1" />
<text transform="translate(465.80,470.00) rotate(-90)" x="0" y="0" text-anchor="middle" dominant-baseline="central" font-size="13.6" fill="#333" textLength="13.8" lengthAdjust="spacingAndGlyphs">10</text>
<line x1="476.80" y1="420.40" x2="481.80" y2="420.40" stroke="#333" stroke-width="1" />
<text transform="translate(465.80,420.40) rotate(-90)" x="0" y="0" text-anchor="middle" dominant-baseline="central" font-size="13.6" fill="#333" textLength="13.8" lengthAdjust="spacingAndGlyphs">15</text>
<line x1="524.50" y1="515.50" x2="524.50" y2="469.00" stroke="#111" stroke-width="1.1" stroke-dasharray="3.5 2.8"/>
<line x1="524.50" y1="546.00" x2="524.50" y2="569.30" stroke="#111" stroke-width="1.1" stroke-dasharray="3.5 2.8"/>
<line x1="515.50" y1="469.00" x2="534.50" y2="469.00" stroke="#999" stroke-width="1" />
<line x1="515.50" y1="569.30" x2="534.50" y2="569.30" stroke="#222" stroke-width="1" />
<line x1="524.50" y1="431.50" x2="524.50" y2="469.00" stroke="#000" stroke-width="2" />
<rect x="523.5" y="420.0" width="2" height="1.6" fill="#000"/>
<rect x="523.5" y="422.2" width="2" height="1.6" fill="#000"/>
<rect x="523.5" y="424.4" width="2" height="1.6" fill="#000"/>
<rect x="523.5" y="426.6" width="2" height="1.6" fill="#000"/>
<rect x="523.5" y="428.8" width="2" height="1.6" fill="#000"/>
<rect x="523.5" y="409.3" width="2" height="1.6" fill="#000"/>
<rect x="523.5" y="411.9" width="2" height="1.6" fill="#000"/>
<rect x="523.5" y="414.5" width="2" height="1.6" fill="#000"/>
<rect x="505.50" y="515.50" width="38.00" height="30.50" fill="#90ee90" stroke="#222" stroke-width="1"/>
<line x1="505.50" y1="532.50" x2="543.50" y2="532.50" stroke="#000" stroke-width="2.3" />
<line x1="524.50" y1="576.50" x2="524.50" y2="581.50" stroke="#333" stroke-width="1" />
<line x1="598.50" y1="490.50" x2="598.50" y2="428.00" stroke="#999" stroke-width="1.1" stroke-dasharray="3.5 2.8"/>
<line x1="598.50" y1="534.00" x2="598.50" y2="569.30" stroke="#999" stroke-width="1.1" stroke-dasharray="3.5 2.8"/>
<line x1="589.50" y1="428.00" x2="608.50" y2="428.00" stroke="#999" stroke-width="1" />
<line x1="589.50" y1="569.30" x2="608.50" y2="569.30" stroke="#222" stroke-width="1" />
<line x1="598.50" y1="402.00" x2="598.50" y2="428.00" stroke="#000" stroke-width="1.3" />
<rect x="597.5" y="399.0" width="2" height="2" fill="#000"/>
<rect x="580.50" y="490.50" width="37.00" height="43.50" fill="#ffd700" stroke="#222" stroke-width="1"/>
<line x1="580.50" y1="517.70" x2="617.50" y2="517.70" stroke="#000" stroke-width="2.3" />
<line x1="598.50" y1="576.50" x2="598.50" y2="581.50" stroke="#333" stroke-width="1" />
<line x1="481.80" y1="392.50" x2="642.50" y2="392.50" stroke="#000" stroke-width="1.1" />
<line x1="481.80" y1="576.50" x2="642.50" y2="576.50" stroke="#000" stroke-width="1.1" />
<line x1="481.80" y1="392.50" x2="481.80" y2="576.50" stroke="#000" stroke-width="1" />
<line x1="642.50" y1="392.50" x2="642.50" y2="576.50" stroke="#000" stroke-width="1" />
<text x="530.20" y="367.50" font-size="19" font-weight="normal" fill="#000" textLength="63.00" lengthAdjust="spacingAndGlyphs">S100A8</text>
<text x="525.70" y="391.80" font-size="11.5" font-weight="normal" fill="#222" textLength="69.25" lengthAdjust="spacingAndGlyphs">p = 1.33e-53</text>
<text x="508.80" y="605.20" font-size="18" font-weight="normal" fill="#000" textLength="31.00" lengthAdjust="spacingAndGlyphs">Sec-</text>
<text x="587.00" y="605.20" font-size="18" font-weight="normal" fill="#000" textLength="35.00" lengthAdjust="spacingAndGlyphs">Sec+</text>
<text x="64.70" y="669.90" font-size="21.5" font-weight="bold" fill="#000" textLength="194.25" lengthAdjust="spacingAndGlyphs">Positive association</text>
<text x="65.70" y="699.00" font-size="21.5" font-weight="bold" fill="#000" textLength="160.00" lengthAdjust="spacingAndGlyphs">with Sec- cohort</text>
<text x="484.10" y="669.90" font-size="21.5" font-weight="bold" fill="#000" textLength="195.00" lengthAdjust="spacingAndGlyphs">Positive association</text>
<text x="485.10" y="699.00" font-size="21.5" font-weight="bold" fill="#000" textLength="166.00" lengthAdjust="spacingAndGlyphs">with Sec+ cohort</text>
<rect x="294.50" y="739.50" width="67.00" height="26.00" fill="#90ee90" stroke="#222" stroke-width="1"/>
<rect x="352.50" y="778.50" width="9.00" height="25.50" fill="#90ee90" stroke="#222" stroke-width="1"/>
<rect x="361.50" y="816.50" width="35.00" height="27.00" fill="#ffd700" stroke="#222" stroke-width="1"/>
<rect x="345.50" y="857.50" width="16.00" height="25.00" fill="#90ee90" stroke="#222" stroke-width="1"/>
<rect x="361.00" y="739.00" width="3.00" height="27.00" fill="#000"/>
<rect x="361.00" y="778.00" width="3.00" height="26.50" fill="#000"/>
<rect x="359.00" y="816.00" width="2.50" height="28.00" fill="#000"/>
<rect x="361.00" y="857.00" width="3.00" height="26.00" fill="#000"/>
<line x1="334.10" y1="662.00" x2="334.10" y2="985.00" stroke="#999" stroke-width="1.3" stroke-dasharray="3.3 2.4"/>
<line x1="389.40" y1="662.00" x2="389.40" y2="985.00" stroke="#999" stroke-width="1.3" stroke-dasharray="3.3 2.4"/>
<line x1="361.50" y1="662.00" x2="361.50" y2="992.80" stroke="#000" stroke-width="1.4" />
<line x1="291.00" y1="671.80" x2="331.30" y2="671.80" stroke="#777" stroke-width="1.1" />
<polygon points="279.6,671.9 292.0,665.7 292.0,678.1" fill="#000"/>
<line x1="390.00" y1="672.50" x2="452.00" y2="672.50" stroke="#222" stroke-width="1.1" />
<polygon points="464.5,672.5 451.8,666.4 451.8,678.6" fill="#000"/>
<text x="171.70" y="756.30" font-size="17.5" font-weight="normal" fill="#000" textLength="91.00" lengthAdjust="spacingAndGlyphs">Eosinophils</text>
<text x="213.20" y="795.90" font-size="17.5" font-weight="normal" fill="#000" textLength="82.25" lengthAdjust="spacingAndGlyphs">Mast Cells</text>
<text x="171.70" y="875.80" font-size="17.5" font-weight="normal" fill="#000" textLength="123.00" lengthAdjust="spacingAndGlyphs">NK56-dim Cells</text>
<text x="411.50" y="837.70" font-size="17.5" font-weight="normal" fill="#000" textLength="137.25" lengthAdjust="spacingAndGlyphs">Myeloid-Derived</text>
<text x="412.50" y="861.50" font-size="17.5" font-weight="normal" fill="#000" textLength="133.00" lengthAdjust="spacingAndGlyphs">Suppressor Cells</text>
<line x1="152.30" y1="985.50" x2="570.20" y2="985.50" stroke="#000" stroke-width="1.1" />
<line x1="152.30" y1="985.00" x2="152.30" y2="992.00" stroke="#000" stroke-width="1.2" />
<text x="152.30" y="1011.80" text-anchor="middle" font-size="14" fill="#333">-10</text>
<line x1="256.78" y1="985.00" x2="256.78" y2="992.00" stroke="#000" stroke-width="1.2" />
<text x="256.78" y="1011.80" text-anchor="middle" font-size="14" fill="#333">-5</text>
<line x1="361.26" y1="985.00" x2="361.26" y2="992.00" stroke="#000" stroke-width="1.2" />
<text x="361.26" y="1011.80" text-anchor="middle" font-size="14" fill="#333">0</text>
<line x1="465.74" y1="985.00" x2="465.74" y2="992.00" stroke="#000" stroke-width="1.2" />
<text x="465.74" y="1011.80" text-anchor="middle" font-size="14" fill="#333">5</text>
<line x1="570.22" y1="985.00" x2="570.22" y2="992.00" stroke="#000" stroke-width="1.2" />
<text x="570.22" y="1011.80" text-anchor="middle" font-size="14" fill="#333">10</text>
<text x="291.00" y="1041.30" font-size="17" font-weight="normal" fill="#000" textLength="108.75" lengthAdjust="spacingAndGlyphs">-log 10(p-val)</text>
</svg></body></html>
